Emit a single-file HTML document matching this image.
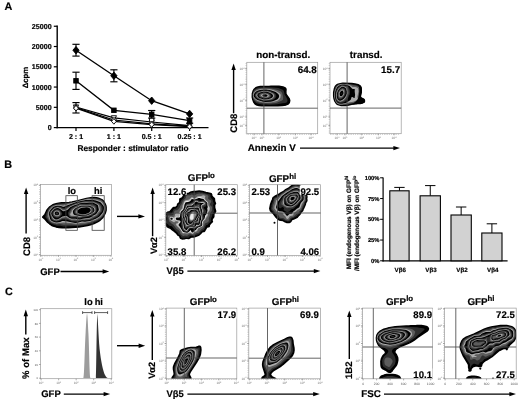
<!DOCTYPE html>
<html lang="en"><head><meta charset="utf-8"><title>Figure</title><style>html,body{margin:0;padding:0;background:#fff}body{width:520px;height:402px;overflow:hidden;font-family:"Liberation Sans",Arial,sans-serif}svg{display:block}text{stroke:#000;stroke-width:.18px}text.t{stroke:none}</style></head><body>
<svg width="520" height="402" viewBox="0 0 520 402" font-family='Liberation Sans, Arial, Helvetica, sans-serif' text-rendering="geometricPrecision"><defs><clipPath id="c1"><rect x="246.8" y="62.3" width="70.9" height="71.4"/></clipPath><clipPath id="c2"><rect x="330" y="62.3" width="71.2" height="71.4"/></clipPath><clipPath id="c3"><rect x="40.4" y="184.6" width="71.1" height="70.7"/></clipPath><clipPath id="c4"><rect x="165.8" y="184.7" width="71.5" height="70.7"/></clipPath><clipPath id="c5"><rect x="249.4" y="184.7" width="71.2" height="70.7"/></clipPath><clipPath id="c6"><rect x="166.2" y="308.1" width="70.6" height="70.7"/></clipPath><clipPath id="c7"><rect x="248.8" y="308.1" width="71.8" height="70.7"/></clipPath><clipPath id="c8"><rect x="362.6" y="308.1" width="70" height="70.7"/></clipPath><clipPath id="c9"><rect x="444.6" y="308.1" width="71.6" height="70.7"/></clipPath></defs><rect width="520" height="402" fill="#fff"/><text x="4.6" y="10.3" font-size="10.8" font-weight="bold" text-anchor="start" fill="#000">A</text>
<text x="4.3" y="168.3" font-size="10.8" font-weight="bold" text-anchor="start" fill="#000">B</text>
<text x="5" y="295.3" font-size="10.8" font-weight="bold" text-anchor="start" fill="#000">C</text>
<line x1="57.2" y1="25.6" x2="57.2" y2="128.3" stroke="#000" stroke-width="1.4"/>
<line x1="56.5" y1="127.6" x2="208.5" y2="127.6" stroke="#000" stroke-width="1.4"/>
<line x1="53.8" y1="127.6" x2="57.2" y2="127.6" stroke="#000" stroke-width="1.2"/>
<text x="51.6" y="130.1" font-size="7.1" font-weight="bold" text-anchor="end" fill="#000">0</text>
<line x1="53.8" y1="107.33" x2="57.2" y2="107.33" stroke="#000" stroke-width="1.2"/>
<text x="51.6" y="109.83" font-size="7.1" font-weight="bold" text-anchor="end" fill="#000">5000</text>
<line x1="53.8" y1="87.06" x2="57.2" y2="87.06" stroke="#000" stroke-width="1.2"/>
<text x="51.6" y="89.56" font-size="7.1" font-weight="bold" text-anchor="end" fill="#000">10000</text>
<line x1="53.8" y1="66.79" x2="57.2" y2="66.79" stroke="#000" stroke-width="1.2"/>
<text x="51.6" y="69.29" font-size="7.1" font-weight="bold" text-anchor="end" fill="#000">15000</text>
<line x1="53.8" y1="46.52" x2="57.2" y2="46.52" stroke="#000" stroke-width="1.2"/>
<text x="51.6" y="49.02" font-size="7.1" font-weight="bold" text-anchor="end" fill="#000">20000</text>
<line x1="53.8" y1="26.25" x2="57.2" y2="26.25" stroke="#000" stroke-width="1.2"/>
<text x="51.6" y="28.75" font-size="7.1" font-weight="bold" text-anchor="end" fill="#000">25000</text>
<line x1="76" y1="127.6" x2="76" y2="131" stroke="#000" stroke-width="1.2"/>
<text x="76" y="138.7" font-size="7.1" font-weight="bold" text-anchor="middle" fill="#000">2 : 1</text>
<line x1="113.9" y1="127.6" x2="113.9" y2="131" stroke="#000" stroke-width="1.2"/>
<text x="113.9" y="138.7" font-size="7.1" font-weight="bold" text-anchor="middle" fill="#000">1 : 1</text>
<line x1="151.7" y1="127.6" x2="151.7" y2="131" stroke="#000" stroke-width="1.2"/>
<text x="151.7" y="138.7" font-size="7.1" font-weight="bold" text-anchor="middle" fill="#000">0.5 : 1</text>
<line x1="189.6" y1="127.6" x2="189.6" y2="131" stroke="#000" stroke-width="1.2"/>
<text x="189.6" y="138.7" font-size="7.1" font-weight="bold" text-anchor="middle" fill="#000">0.25 : 1</text>
<text x="133" y="150.6" font-size="8.3" font-weight="bold" text-anchor="middle" fill="#000">Responder : stimulator ratio</text>
<text x="28" y="77.5" font-size="7.8" font-weight="bold" text-anchor="middle" fill="#000" transform="rotate(-90 28 77.5)">Δcpm</text>
<line x1="76" y1="102.6" x2="76" y2="113" stroke="#000" stroke-width="1.15"/>
<line x1="72.4" y1="102.6" x2="79.6" y2="102.6" stroke="#000" stroke-width="1.15"/>
<line x1="72.4" y1="113" x2="79.6" y2="113" stroke="#000" stroke-width="1.15"/>
<polyline points="76,107 113.9,117.8 151.7,122 189.6,125.6" fill="none" stroke="#000" stroke-width="1.25"/>
<polyline points="76,107.6 113.9,120 151.7,123.8 189.6,126.2" fill="none" stroke="#000" stroke-width="1.25"/>
<polyline points="76,108.2 113.9,121.4 151.7,124.6 189.6,126.6" fill="none" stroke="#000" stroke-width="1.25"/>
<path d="M73.4 104.92 L78.6 104.92 L76 109.6 Z" fill="#fff" stroke="#000" stroke-width=".9"/>
<path d="M111.3 115.72 L116.5 115.72 L113.9 120.4 Z" fill="#fff" stroke="#000" stroke-width=".9"/>
<path d="M149.1 119.92 L154.3 119.92 L151.7 124.6 Z" fill="#fff" stroke="#000" stroke-width=".9"/>
<path d="M187 123.52 L192.2 123.52 L189.6 128.2 Z" fill="#fff" stroke="#000" stroke-width=".9"/>
<rect x="149.6" y="117.9" width="4.2" height="4.2" fill="#fff" stroke="#000" stroke-width=".9"/>
<circle cx="76" cy="107.6" r="2.3" fill="#fff" stroke="#000" stroke-width=".9"/>
<circle cx="113.9" cy="120" r="2.3" fill="#fff" stroke="#000" stroke-width=".9"/>
<circle cx="151.7" cy="123.8" r="2.3" fill="#fff" stroke="#000" stroke-width=".9"/>
<circle cx="189.6" cy="126.2" r="2.3" fill="#fff" stroke="#000" stroke-width=".9"/>
<path d="M76 105.4 L78.38 108.2 L76 111 L73.62 108.2 Z" fill="#fff" stroke="#000" stroke-width=".9"/>
<path d="M113.9 118.6 L116.28 121.4 L113.9 124.2 L111.52 121.4 Z" fill="#fff" stroke="#000" stroke-width=".9"/>
<path d="M151.7 121.8 L154.08 124.6 L151.7 127.4 L149.32 124.6 Z" fill="#fff" stroke="#000" stroke-width=".9"/>
<path d="M189.6 123.8 L191.98 126.6 L189.6 129.4 L187.22 126.6 Z" fill="#fff" stroke="#000" stroke-width=".9"/>
<polyline points="76,80.8 113.9,110.3 151.7,114.3 189.6,120.6" fill="none" stroke="#000" stroke-width="1.35"/>
<line x1="76" y1="72.2" x2="76" y2="89.4" stroke="#000" stroke-width="1.15"/>
<line x1="72.4" y1="72.2" x2="79.6" y2="72.2" stroke="#000" stroke-width="1.15"/>
<line x1="72.4" y1="89.4" x2="79.6" y2="89.4" stroke="#000" stroke-width="1.15"/>
<line x1="151.7" y1="110.5" x2="151.7" y2="118.1" stroke="#000" stroke-width="1.15"/>
<line x1="148.1" y1="110.5" x2="155.3" y2="110.5" stroke="#000" stroke-width="1.15"/>
<line x1="148.1" y1="118.1" x2="155.3" y2="118.1" stroke="#000" stroke-width="1.15"/>
<line x1="189.6" y1="118" x2="189.6" y2="123.2" stroke="#000" stroke-width="1.15"/>
<line x1="186" y1="118" x2="193.2" y2="118" stroke="#000" stroke-width="1.15"/>
<line x1="186" y1="123.2" x2="193.2" y2="123.2" stroke="#000" stroke-width="1.15"/>
<rect x="73.75" y="78.55" width="4.5" height="4.5" fill="#000" stroke="#000" stroke-width=".9"/>
<rect x="111.65" y="108.05" width="4.5" height="4.5" fill="#000" stroke="#000" stroke-width=".9"/>
<rect x="149.45" y="112.05" width="4.5" height="4.5" fill="#000" stroke="#000" stroke-width=".9"/>
<rect x="187.35" y="118.35" width="4.5" height="4.5" fill="#000" stroke="#000" stroke-width=".9"/>
<polyline points="76,50.2 113.9,75.8 151.7,100.7 189.6,113.9" fill="none" stroke="#000" stroke-width="1.35"/>
<line x1="76" y1="44.3" x2="76" y2="56.1" stroke="#000" stroke-width="1.15"/>
<line x1="72.4" y1="44.3" x2="79.6" y2="44.3" stroke="#000" stroke-width="1.15"/>
<line x1="72.4" y1="56.1" x2="79.6" y2="56.1" stroke="#000" stroke-width="1.15"/>
<line x1="113.9" y1="69.8" x2="113.9" y2="81.8" stroke="#000" stroke-width="1.15"/>
<line x1="110.3" y1="69.8" x2="117.5" y2="69.8" stroke="#000" stroke-width="1.15"/>
<line x1="110.3" y1="81.8" x2="117.5" y2="81.8" stroke="#000" stroke-width="1.15"/>
<path d="M76 46.5 L79.14 50.2 L76 53.9 L72.86 50.2 Z" fill="#000" stroke="#000" stroke-width=".9"/>
<path d="M113.9 72.1 L117.05 75.8 L113.9 79.5 L110.76 75.8 Z" fill="#000" stroke="#000" stroke-width=".9"/>
<path d="M151.7 97 L154.84 100.7 L151.7 104.4 L148.55 100.7 Z" fill="#000" stroke="#000" stroke-width=".9"/>
<path d="M189.6 110.2 L192.75 113.9 L189.6 117.6 L186.45 113.9 Z" fill="#000" stroke="#000" stroke-width=".9"/>
<g fill-rule="evenodd" clip-path="url(#c1)"><path d="M277.8 105.8l-16 0-2.8-.4-2-.4-1.8-1-.7-.8-.8-1.2-.8-2.2-.6-2.6 .1-3.7 .7-2.3 1.1-2 1.6-1.4 2.2-.9 2.2-.3 3.8 0 1.5-.2 3.5 0 2-.2 8 .1 4 .6 2.2 1 .5 .6 .3 1-.2 2.3 .2 2.4 3.2 4.6 .5 1.7-.3 1.7-.5 1-.7 .7-.7 .5-1.5 .5-3.8 .6z" fill="#000" stroke="#000" stroke-width="1.5" stroke-linejoin="round"/><path d="M274.8 104.5l-5.3 .2-4.3-.1-3.2-.2-4.5-.8-1.7-.8-2.3-2.6-.8-3 0-3.4 .9-2.8 .9-1.5 2.3-1.3 1.4-.5 2-.3 5.3-.2 8 .2 5 .7 4.7 1.8 .8 1.9 .6 2.7 1.2 1.7 1.5 3.3 .2 1.3-.4 1.2-.6 .5-1.3 .4-2.7 .3-5.3 1.1z" fill="#2e2e2e"/><path d="M272.8 103.3l-2.8 .2-6.8-.2-3.2-.5-2.2-.7-1-.4-2.1-1.7-1.7-2.1-.2-3.4 .4-2.1 1.4-1.6 1.8-1.3 2.4-.8 3-.4 6 0 4.7 .5 5 1.3 3.5 1.4 1.1 1.5 .8 3 .3 2-.3 1.8-1.4 1-3.5 1.5-2 .6z" fill="#5c5c5c"/><path d="M266.5 102.5l-2.3 0-2.4-.4-4-1.2-2-1.2-2.1-2.2-.5-1.5 .1-2 1.1-1.8 2-1.7 2.6-.9 3-.5 5.8 0 3.4 .5 4.6 1.5 3.4 1.8 .9 .9 .4 .7 .2 1-.3 2-.8 1.5-1.6 1.5-1.2 .5-5 1.3z" fill="#acacac"/><path d="M270.8 101.8l-5.3 .2-1.7-.1-2.3-.6-4-1.3-1.9-1.2-1.5-1.8-.4-1.5 .3-1.5 1-1.5 1.9-1.5 2.1-.8 2.8-.5 4.2-.1 3.5 .3 2 .5 4.3 1.7 2.1 1.7 .9 1 .3 1.2-.3 1.6-1 1.3-1.2 .9-3.6 1.4z" fill="#000"/><path d="M266.2 101l-1.7 .1-1.5-.3-3.8-1.1-1.9-.9-1.4-1.3-.9-1.3-.2-1.2 .4-1 1.6-1.8 1.9-1 2.5-.5 3.8-.3 3 .1 2.3 .5 3.8 1.8 1.3 1 .7 1.2 .1 1.2-.4 1.3-1 1.3-1.6 1-2 .7z" fill="#2e2e2e"/><path d="M267.2 100.3l-2 .2-1.2-.1-3.8-1-1.6-.6-1.4-1-1.1-1.3-.4-1.3 .3-1 1.3-1.4 1.8-1 2.4-.6 3.5-.3 2.5 .1 2.3 .5 3 1.4 1.4 1.1 .5 1 .1 1-.3 1.2-.7 1.1-1.3 .9-1.5 .6z" fill="#5c5c5c"/><path d="M266.8 99.8l-2.8 0-3.5-.9-1.5-.6-1.2-.8-.9-1.3-.3-1 .3-1 1.1-1.2 1.5-.8 2.7-.6 3-.2 2 .1 2 .5 2.7 1.2 1.3 1 .5 1 0 1-.3 1-.7 .8-.9 .7-1.3 .5z" fill="#acacac"/><path d="M267.5 99.3l-3 .1-4.8-1.2-1.2-.7-.8-1-.4-1 .1-1 1.1-1.3 1.3-.7 2.1-.5 2.9-.3 2 .1 1.7 .4 2.2 1 1.6 1 .5 .8 .2 .8-.2 1-.5 .7-.8 .6-1 .5z" fill="#000"/><path d="M267.5 98.5l-2.5 .1-4.8-1-.7-.4-.7-.7-.3-1 .1-.7 .4-.8 .8-.6 2.2-.7 3.5-.3 2.7 .6 1.4 .8 1.2 1 .5 .7 0 .7-.4 .8-.7 .6-1.2 .5z" fill="#2e2e2e"/><path d="M266.8 98l-2-.1-4.2-.9-.6-.4-.4-.6-.1-.8 .1-.4 .4-.6 .8-.4 2.7-.7 2.3-.1 2.2 .7 1 .5 .7 .8 .3 .8 0 .4-.3 .6-.7 .5-1 .5z" fill="#5c5c5c"/><path d="M267 97.3l-2 0-2.4-.5-1.5-.8-.2-.8 .6-.7 1.7-.6 2-.2 1.7 .3 1.4 .8 .5 1-.1 .4-.5 .5z" fill="#acacac"/><path d="M266 96.8l-1.2 0-1.3-.4-.8-.4-.3-.8 .5-.4 1.1-.4 1.2-.1 1.3 .3 .8 .4 .3 .8-.6 .7z" fill="#000"/></g>
<rect x="246.8" y="62.3" width="70.9" height="71.4" fill="none" stroke="#9a9a9a" stroke-width=".7"/>
<line x1="246.1" y1="63.3" x2="246.1" y2="133.7" stroke="#a4a4a4" stroke-width="1.2" stroke-dasharray=".45 1.35"/>
<line x1="246.8" y1="134.4" x2="316.7" y2="134.4" stroke="#a4a4a4" stroke-width="1.2" stroke-dasharray=".45 1.35"/>
<line x1="263.9" y1="62.3" x2="263.9" y2="133.7" stroke="#4a4a4a" stroke-width="0.85"/>
<line x1="246.8" y1="108.2" x2="317.7" y2="108.2" stroke="#4a4a4a" stroke-width="0.85"/>
<line x1="245.2" y1="125.5" x2="246.8" y2="125.5" stroke="#777" stroke-width="0.6"/>
<text class="t" transform="translate(244.4 126.7) scale(.32)" font-size="10" font-weight="normal" fill="#777" text-anchor="end">10<tspan dy="-4" font-size="7">0</tspan></text>
<line x1="245.2" y1="116.8" x2="246.8" y2="116.8" stroke="#777" stroke-width="0.6"/>
<text class="t" transform="translate(244.4 118) scale(.32)" font-size="10" font-weight="normal" fill="#777" text-anchor="end">10<tspan dy="-4" font-size="7">1</tspan></text>
<line x1="245.2" y1="100.4" x2="246.8" y2="100.4" stroke="#777" stroke-width="0.6"/>
<text class="t" transform="translate(244.4 101.6) scale(.32)" font-size="10" font-weight="normal" fill="#777" text-anchor="end">10<tspan dy="-4" font-size="7">2</tspan></text>
<line x1="245.2" y1="84.6" x2="246.8" y2="84.6" stroke="#777" stroke-width="0.6"/>
<text class="t" transform="translate(244.4 85.8) scale(.32)" font-size="10" font-weight="normal" fill="#777" text-anchor="end">10<tspan dy="-4" font-size="7">3</tspan></text>
<line x1="245.2" y1="68.6" x2="246.8" y2="68.6" stroke="#777" stroke-width="0.6"/>
<text class="t" transform="translate(244.4 69.8) scale(.32)" font-size="10" font-weight="normal" fill="#777" text-anchor="end">10<tspan dy="-4" font-size="7">4</tspan></text>
<line x1="254" y1="133.7" x2="254" y2="135.3" stroke="#777" stroke-width="0.6"/>
<text class="t" transform="translate(254 138.9) scale(.32)" font-size="10" font-weight="normal" fill="#777" text-anchor="middle">10<tspan dy="-4" font-size="7">0</tspan></text>
<line x1="262" y1="133.7" x2="262" y2="135.3" stroke="#777" stroke-width="0.6"/>
<text class="t" transform="translate(262 138.9) scale(.32)" font-size="10" font-weight="normal" fill="#777" text-anchor="middle">10<tspan dy="-4" font-size="7">1</tspan></text>
<line x1="278.7" y1="133.7" x2="278.7" y2="135.3" stroke="#777" stroke-width="0.6"/>
<text class="t" transform="translate(278.7 138.9) scale(.32)" font-size="10" font-weight="normal" fill="#777" text-anchor="middle">10<tspan dy="-4" font-size="7">2</tspan></text>
<line x1="295.3" y1="133.7" x2="295.3" y2="135.3" stroke="#777" stroke-width="0.6"/>
<text class="t" transform="translate(295.3 138.9) scale(.32)" font-size="10" font-weight="normal" fill="#777" text-anchor="middle">10<tspan dy="-4" font-size="7">3</tspan></text>
<line x1="311" y1="133.7" x2="311" y2="135.3" stroke="#777" stroke-width="0.6"/>
<text class="t" transform="translate(311 138.9) scale(.32)" font-size="10" font-weight="normal" fill="#777" text-anchor="middle">10<tspan dy="-4" font-size="7">4</tspan></text>
<g fill-rule="evenodd" clip-path="url(#c2)"><path d="M343.5 105.5l-2.3-.1-3.2-.8-1-.6-.8-.8-1.3-2-.8-2.4-.4-2.6 0-3.7 .7-3.7 .7-1.8 .6-1 1.1-1.1 1.4-.7 3.3-.8 1.3-.1 9 .3 3.2 .4 3.2 .8 1.8 1 .9 1.4 .3 1.6 0 3.7-.4 1.4-.5 2.9 .9 1.2 2.3 1.1 .7 .7 .2 .4 0 1.6-.4 .3-1 .6-2.8 .7-3 .1-4.4 .6-6.3 1.3z" fill="#000" stroke="#000" stroke-width="1.5" stroke-linejoin="round"/><path d="M345.8 105l-4.3 .1-3-.6-1.6-1-1.5-2-1.1-3.5-.3-2 0-2.5 .4-3.5 .8-2.5 .5-1 1.3-1.3 1-.6 1.8-.5 2.7-.5 4.3 .1 5.4 .5 .6 .3 3.4 .5 2.8 1.1 .9 .9 .6 1.8 .1 3.2-.5 1.8-.5 2.7 0 .5 .4 .7 1 1.1 2.2 1 .4 .7 0 .7-1.1 .7-2.7 .8-3 .1-.8 .3-1.8 .1-.4 .3-1.3 0-.5 .3-2.2 .3-1.6 .6-1.2 0-.5 .3z" fill="#2e2e2e"/><path d="M342.8 104.8l-2.6 0-1.7-.5-1-.5-1.3-1.2-.5-.8-1-2.8-.5-2.5 .2-4.7 1.3-4 .5-1.2 .8-.8 1.8-1.2 2.4-.7 5.6 0 5.2 1.1 .8 .3 3 .5 2 .7 1 .6 .5 .7 .4 1.2 .1 2.5-.8 3.5-.2 2 .5 1 1.2 1.5 2.1 1.3-3.1 .8-2.7 .3-3.3 .9-2.7 .4-2.8 .8z" fill="#5c5c5c"/><path d="M342.2 104.3l-2.7-.1-1.8-.7-1.1-1-.6-.9-.9-2.1-.5-3.3 .2-4.1 1.4-4.1 1.1-1.8 1.8-1.2 2.4-.9 3.7 .1 2.3 .3 2 .6 1.3 .7 1.7 1.1 3 .2 1.3 .4 1 .6 .4 1.1 .3 2.3-1.1 5.3 .1 .7 1.1 2.5-2.4 .4-3 1.3-3.7 .6-3.5 1.3z" fill="#acacac"/><path d="M342.2 103.8l-2.4 0-1.6-.5-1.3-1.1-.9-1.2-.6-1.5-.4-1.7-.1-3.6 .2-2.2 .9-2.5 1.1-2.3 .7-.7 1.4-1.1 1-.5 1.8-.5 2.6 .1 2.6 .4 2.5 1.1 2.5 2.8 .8 .2 1.4 0 .4 .2-.1 2.3 .4 3.3-.5 3.2-.6 0-1.5-.9-.7-.1-.4 .5-.5 2-1.1 1.1-2.3 1.5-1.5 .8z" fill="#000"/><path d="M342 102.8l-2 .1-1.2-.3-1-.6-1-1.1-.6-.9-.5-1.5-.2-4.5 .2-1.8 .6-1.4 1.7-3.2 1.4-1.4 1.1-.6 1.3-.5 1 0 3.7 .6 1 .4 .9 .7 .7 1 .4 1.2 .4 1.8 .1 1.7-.3 1.7-1.7 4.1-.9 1.5-1.3 1.4-.9 .6-1.4 .6z" fill="#2e2e2e"/><path d="M341.5 102l-1.5 .1-1.2-.3-1.3-1-.7-.8-.7-1.8-.1-4.3 .2-1.4 .6-1.5 1.5-2.8 2.2-2 1.3-.4 1-.1 3.2 .7 .8 .4 .7 .7 .7 1.5 .5 4-.3 1.2-1.1 2.6-1.8 2.7-1.7 1.6z" fill="#5c5c5c"/><path d="M341.2 101.3l-1 .1-1.2-.3-1-.7-.8-.9-.5-1-.2-1.3 0-3.4 .3-1.3 .6-1.5 1.5-2.5 2.1-1.8 1-.4 1 0 2.3 .7 1.3 1 .6 1.8 .4 2.2 0 1.2-1.1 3-1.5 2.4-1.7 1.6z" fill="#acacac"/><path d="M340.5 100.8l-1-.1-.9-.5-.8-.7-.5-.7-.4-1.8 .1-3.8 .8-2.2 1.5-2.2 2.2-1.8 .7-.2 1 0 1.8 .7 1 1 .9 3 0 2-1.2 2.7-1.5 2.2-2 1.7z" fill="#000"/><path d="M340.2 99.5l-1.2-.3-.5-.4-.5-.8-.4-2.5 .2-2.5 1-2.2 1.4-1.8 1.6-1.1 .7-.2 .7 0 1.3 .7 .7 1.1 .5 2.3-.1 1.7-.9 2.3-1.2 1.7-1.7 1.4z" fill="#2e2e2e"/><path d="M340.8 98.3l-1.3-.1-.9-1-.4-2 .2-2.2 .8-1.8 1.3-1.6 1.3-.9 1.2-.1 1 .6 .6 1 .3 1.6-.2 1.4-.5 1.8-1 1.5-1.2 1.2z" fill="#5c5c5c"/><path d="M341.2 97.1l-1 0-.8-.6-.4-1.3-.1-1.7 .4-1.3 .9-1.3 1.3-1 1-.3 .7 .4 .6 .8 .3 1-.1 1.2-.4 1.5-.6 1.2-.8 .8z" fill="#acacac"/><path d="M341.2 96.3l-.7-.1-.6-.4-.3-1 0-1.3 .3-1 .7-1 .9-.8 .7-.1 .6 .2 .4 .7 .2 .7 0 1-.8 2-.6 .7z" fill="#000"/><path d="M341.5 94.3l-.3-.1-.1-.4 .2-.6 .5-.1 .1 .7z" fill="#2e2e2e"/><path d="M358.25 84.35 358.75 84.45 359.26 84.67 359.77 85.02 360.29 85.5 360.81 86.1 361.23 86.8 361.53 87.6 361.71 88.5 361.79 89.5 361.79 90.5 361.73 91.5 361.6 92.5 361.4 93.5 361.22 94.4 361.06 95.2 360.91 95.9 360.79 96.5 360.88 97.01 361.18 97.44 361.69 97.78 362.41 98.03 363.07 98.34 363.66 98.73 364.17 99.19 364.63 99.71 364.92 100.24 365.06 100.76 365.04 101.29 364.86 101.81 364.51 102.29 363.97 102.71 363.25 103.09 362.35 103.41 361.36 103.68 360.29 103.88 359.12 104.01 357.88 104.09 356.62 104.19 355.38 104.31 354.12 104.46 352.88 104.64 352.16 104.62 351.97 104.43 352.31 104.04 353.19 103.46 354.03 102.86 354.84 102.22 355.62 101.55 356.38 100.85 357.02 100.09 357.56 99.26 357.99 98.37 358.31 97.43 358.59 96.4 358.83 95.3 359.03 94.12 359.17 92.88 359.27 91.69 359.31 90.56 359.29 89.5 359.21 88.5 359.06 87.58 358.82 86.72 358.5 85.95 358.1 85.25 357.92 84.75 357.98 84.45 Z" fill="#000"/></g>
<rect x="330" y="62.3" width="71.2" height="71.4" fill="none" stroke="#9a9a9a" stroke-width=".7"/>
<line x1="329.3" y1="63.3" x2="329.3" y2="133.7" stroke="#a4a4a4" stroke-width="1.2" stroke-dasharray=".45 1.35"/>
<line x1="330" y1="134.4" x2="400.2" y2="134.4" stroke="#a4a4a4" stroke-width="1.2" stroke-dasharray=".45 1.35"/>
<line x1="347.1" y1="62.3" x2="347.1" y2="133.7" stroke="#4a4a4a" stroke-width="0.85"/>
<line x1="330" y1="108.1" x2="401.2" y2="108.1" stroke="#4a4a4a" stroke-width="0.85"/>
<line x1="328.4" y1="125.5" x2="330" y2="125.5" stroke="#777" stroke-width="0.6"/>
<text class="t" transform="translate(327.6 126.7) scale(.32)" font-size="10" font-weight="normal" fill="#777" text-anchor="end">10<tspan dy="-4" font-size="7">0</tspan></text>
<line x1="328.4" y1="116.8" x2="330" y2="116.8" stroke="#777" stroke-width="0.6"/>
<text class="t" transform="translate(327.6 118) scale(.32)" font-size="10" font-weight="normal" fill="#777" text-anchor="end">10<tspan dy="-4" font-size="7">1</tspan></text>
<line x1="328.4" y1="100.4" x2="330" y2="100.4" stroke="#777" stroke-width="0.6"/>
<text class="t" transform="translate(327.6 101.6) scale(.32)" font-size="10" font-weight="normal" fill="#777" text-anchor="end">10<tspan dy="-4" font-size="7">2</tspan></text>
<line x1="328.4" y1="84.6" x2="330" y2="84.6" stroke="#777" stroke-width="0.6"/>
<text class="t" transform="translate(327.6 85.8) scale(.32)" font-size="10" font-weight="normal" fill="#777" text-anchor="end">10<tspan dy="-4" font-size="7">3</tspan></text>
<line x1="328.4" y1="68.6" x2="330" y2="68.6" stroke="#777" stroke-width="0.6"/>
<text class="t" transform="translate(327.6 69.8) scale(.32)" font-size="10" font-weight="normal" fill="#777" text-anchor="end">10<tspan dy="-4" font-size="7">4</tspan></text>
<line x1="337" y1="133.7" x2="337" y2="135.3" stroke="#777" stroke-width="0.6"/>
<text class="t" transform="translate(337 138.9) scale(.32)" font-size="10" font-weight="normal" fill="#777" text-anchor="middle">10<tspan dy="-4" font-size="7">0</tspan></text>
<line x1="345" y1="133.7" x2="345" y2="135.3" stroke="#777" stroke-width="0.6"/>
<text class="t" transform="translate(345 138.9) scale(.32)" font-size="10" font-weight="normal" fill="#777" text-anchor="middle">10<tspan dy="-4" font-size="7">1</tspan></text>
<line x1="361.7" y1="133.7" x2="361.7" y2="135.3" stroke="#777" stroke-width="0.6"/>
<text class="t" transform="translate(361.7 138.9) scale(.32)" font-size="10" font-weight="normal" fill="#777" text-anchor="middle">10<tspan dy="-4" font-size="7">2</tspan></text>
<line x1="378.3" y1="133.7" x2="378.3" y2="135.3" stroke="#777" stroke-width="0.6"/>
<text class="t" transform="translate(378.3 138.9) scale(.32)" font-size="10" font-weight="normal" fill="#777" text-anchor="middle">10<tspan dy="-4" font-size="7">3</tspan></text>
<line x1="394" y1="133.7" x2="394" y2="135.3" stroke="#777" stroke-width="0.6"/>
<text class="t" transform="translate(394 138.9) scale(.32)" font-size="10" font-weight="normal" fill="#777" text-anchor="middle">10<tspan dy="-4" font-size="7">4</tspan></text>
<text x="283.2" y="58.4" font-size="9.8" font-weight="bold" text-anchor="middle" fill="#000">non-transd.</text>
<text x="366.2" y="58.4" font-size="9.8" font-weight="bold" text-anchor="middle" fill="#000">transd.</text>
<text x="316.8" y="72.8" font-size="9.8" font-weight="bold" text-anchor="end" fill="#000">64.8</text>
<text x="400.2" y="72.8" font-size="9.8" font-weight="bold" text-anchor="end" fill="#000">15.7</text>
<text x="236.8" y="123.2" font-size="9.5" font-weight="bold" text-anchor="middle" fill="#000" transform="rotate(-90 236.8 123.2)">CD8</text>
<line x1="233.6" y1="113.2" x2="233.6" y2="69" stroke="#000" stroke-width="1.4"/>
<path d="M233.6 63.4 L231.4 70 L235.8 70 Z" fill="#000"/>
<text x="247.8" y="150.7" font-size="9.8" font-weight="bold" text-anchor="start" fill="#000">Annexin V</text>
<line x1="300" y1="148.1" x2="394.4" y2="148.1" stroke="#000" stroke-width="1.4"/>
<path d="M400 148.1 L393.4 145.9 L393.4 150.3 Z" fill="#000"/>
<g fill-rule="evenodd" clip-path="url(#c3)"><path d="M68.5 227.8l-6.3 0-3.2-.4-3-.5-2.8-.9-1.7-.8-2-1.4-1.9-1.6-2.9-3.4-2-1.6 .2-.4 2.1-2.4 1.4-3.2 1-1.7 2.4-2.7 3-2 2.4-.9 2-.5 4.3-.6 7.5-.4 3-.4 5.8-1.2 8.7-2.4 4.3-.7 3.2-.2 2.5 .2 2 .5 3.3 1.4 1.2 1 1 1.2 1.1 2 .7 1.7 .3 1.7 0 3-.9 3-1.5 3-1.3 1.8-2.4 2.3-2.5 1.6-3.5 1.7-3.5 1.2-3 .8-8.5 1.3z" fill="#000" stroke="#000" stroke-width="1.5" stroke-linejoin="round"/><path d="M65.5 226.5l-2 .1-3-.8-3.5 0-5.2-1.9-1.6-.9-1.8-1.5-1.2-2-2-2.5 1.1-3.8 1.4-3.2 1.2-1.8 2.3-2.1 2.3-1.2 4-1.2 1.3-.2 5.4-.3 .6-.2 4.2-.2 3-.4 3-.6 11.8-3.2 3.7-.5 3.7-.2 2.6 .3 2.7 .7 2 .9 1 .8 1.7 2.2 1.1 2.2 .5 2 0 2.8-.4 1.4-.6 2-1.4 2.8-1.2 1.6-2.4 2.2-2.6 1.4-7 2.8-4.2 1-7.2 1.1-4.3-.1-3.5 .2-2 0z" fill="#2e2e2e"/><path d="M78.5 224.8l-2.5 .1-5-.5-7.2 .3-4-.6-3.3 .2-4.3-1.3-1.4-.9-1.6-1.3-2.2-3.8 .4-3.5 1-3 .8-1.4 2.1-2.3 1.5-1 2.2-.8 3-.6 5.2-.1 4.3-.7 2.7-.8 4.3-.7 12.7-3.4 1.3-.2 7.7 .3 4 1 1 .5 1.3 .9 1.3 1.6 1.5 2.7 .2 1.3 0 3.4-.5 1.8-.7 1.2-1.6 2.6-1.3 1.4-1.6 1.3-3 1.7-7 2.6-5.8 1.4z" fill="#5c5c5c"/><path d="M76.2 223.8l-5.4-.8-7.3-.6-7 .8-4.5-1.3-1.2-.9-1-1-1.3-3.2-.2-3 .2-1.6 .5-1.2 .8-1.2 2.1-2.6 1.1-.7 2.2-.9 1.8-.3 2.5-.2 3.5 .6 1-.1 1.8-.7 6.4-1.8 3-1.1 10.3-2.4 2.3-.3 5 .2 3.2 .3 4.2 1.2 1.3 .9 .9 .9 2.1 3.2 .3 1.2-.2 2.6-.9 2.7-1.9 2.7-1.7 1.8-4.1 2.5-6.2 2.2-4.6 .9-3.4 .1z" fill="#acacac"/><path d="M77.5 222.8l-2.3 .1-4-.6-4.7-1.1-3.3-.3-1 .1-2 .9-3.2 .6-1.2-.1-3-.9-1.7-1-1-1.5-1.2-4.8 0-1.2 .4-1.2 .9-1.6 2.1-2.4 1.2-1 1.5-.6 2.2-.4 2.3-.1 1.3 .2 2.2 .8 1 0 2.2-1 10.3-3.6 9.3-2 2-.2 5.2 .2 2.8 .5 2.7 .8 1.5 .6 1 .7 2.2 2.7 .6 .8 .3 1.3-.2 2-.6 2-.8 1.4-2.5 3.1-1.2 1-3 1.8-5.8 2.1-5 .8-3-.1z" fill="#000"/><path d="M77 221.8l-1.2 0-4-.4-4.6-1.7-1.4-.3-3.6 .1-2.4 1.2-3 .8-1.3-.1-2.3-.6-1.2-.7-.8-1.1-.4-2-1-2.8-.1-1 .1-1 .7-1.1 2.5-2.9 1-.7 1.2-.6 2.3-.4 2 0 1 .3 2.5 1.3 1.2 .1 5.4-2.7 5.1-2 4.1-1.3 6.2-1.2 3-.2 4.8 .2 1.2 .2 5.2 1.9 1.8 1.3 1.1 1.4 .3 .7 .3 1.3-.1 1.7-.4 1.7-.4 .9-1.6 1.5-1.4 1.9-1.8 1.4-2.1 1.1-4.9 2-5 .7-3-.1-3 .9z" fill="#2e2e2e"/><path d="M78 220.8l-6.2-.3-1.6-.5-3-1.4-1.7-.3-3.3 .2-2.7 1.4-2.5 .9-1 0-1.4-.3-1.7-.7-.9-1-1.7-4.6-.1-1 .2-.7 .5-1 2.8-3 .8-.6 1.3-.5 1.7-.3 1.7 .1 1 .4 2.8 1.6 1.5 .1 1-.5 4.3-2.6 5-2.1 4.7-1.6 5.5-.9 4.5-.1 4.3 .2 4.4 1.9 1 .6 1.2 1.3 .5 1 .5 2.5-.2 1.8-.4 .7-1.6 1.5-1.7 2.2-1 .9-4.1 2.1-2.6 1.2-5 .6-2.8 0z" fill="#5c5c5c"/><path d="M57.2 220l-1 .2-.9-.2-1.2-.5-.9-.6-.5-.7-1.4-3-.5-1.4 .1-1.3 .6-.9 2.7-2.8 1.6-.8 1.7-.4 1.5 .2 1 .4 3 2 1.5 .2 1.7-.8 4-3 4.3-1.9 5.3-1.8 5.2-.7 4.5-.2 4.3 .4 4 1.8 .7 .7 .5 .9 .9 3.7 0 .7-.4 .8-1.5 1.6-1.8 2.4-2.2 1-2 1.4-2.2 1.1-2.8 .3-2.2 .4-2.3 .1-2.7 .5-1.6 .1-3.4-.6-3.6 .1-1.4-.6-3-1.6-1.6-.1-3 .4-3 1.7z" fill="#acacac"/><path d="M57 219.5l-1.5 0-1.9-1.3-1.8-2.7-.6-1.7 .1-1 .6-1 2.6-2.7 1.5-.8 1.5-.2 1.3 .2 1.4 .7 2.6 1.9 1 .3 1-.1 1.2-.5 1.6-.8 2-2 .9-.8 3.9-1.8 2.6-.8 2.8-1.2 4.7-.5 2.5 .1 2.5-.3 4 .3 3.5 1.6 .7 .6 .4 .8 .7 3.4 0 .8-.5 1-1.7 2.5-1.1 1.1-1.7 .7-2 1.4-2 1-7 1.1-2.8 .6-1.2 0-3.3-.7-3.5 0-1.2-.1-1.8-.8-2.2-1.7-1-.1-3.3 .6-3.5 2.1z" fill="#000"/><path d="M80.5 218.3l-1.5 .1-2.8-.8-5-.1-1.2-.4-.8-.6-.8-1.3-.6-2.2 .3-.8 1.1-1.4 1.4-2.3 .9-.7 3.5-1.8 2.5-.9 2-1 1-.2 3.7-.2 2.8 .2 3-.4 3.8 .7 1.2 .6 1 .7 .4 .7 .3 1.3 .2 2.5-.5 1.8-1.2 1.5-4 2.3-2 .8-1.4 .4-4.8 .6zM58 217.8l-1 .1-.8-.1-2-.9-1.2-1.2-.8-1.7 .1-1.2 1.1-1.6 1.8-1.5 1.6-.5 1.4 .1 1.8 .9 1.1 1.3 1.2 2.3-.4 1-1.4 1.4-1.3 1.1z" fill="#2e2e2e"/><path d="M80 217.5l-1 .1-2.5-.8-5-.1-1-.2-.7-.5-.5-1-.1-1.5 2.2-4.3 4.1-2.6 2.5-1 1.6-.8 .9-.3 6.5 .2 3-.2 3.5 1 1 .6 .6 .7 .7 1.4 .3 1.8-.4 1.5-.9 1.3-3.6 2-2.7 1.1-2 .4-4 .4zM58.2 216.8l-1.4 .1-1.8-.6-1.1-.8-.7-1-.2-1 .4-1.3 1.1-1.2 1.3-.8 1.2-.2 1.5 .3 1.3 .9 .7 1.3 .3 1.3-.4 1.2-.9 1.1z" fill="#5c5c5c"/><path d="M80.5 216.5l-1.3 .2-2.4-.7-5.6-.2-.8-.6-.2-.4 0-.7 1.2-1.9 .6-1.7 .8-1 3-2.3 4.4-2 9.8 .2 3 1.1 1 .8 .7 .9 .5 1.8-.3 1.5-.7 .8-2.4 1.6-1.8 .9-2.8 .9-5 .4zM57.8 216l-1 0-1.3-.4-1-.6-.5-.8-.1-.7 .2-1 .7-.9 1-.6 1-.2 1.2 .2 1.1 .8 .6 1 .1 1-.3 1.1-.7 .8z" fill="#acacac"/><path d="M79.8 216l-5.2-1-.8-.5-.6-1-.3-1.7 .3-1.3 1.9-2 1.7-1.1 4-1.7 8.2 .1 1.8 .4 1.4 .7 1.3 .9 .7 1.1 .3 1.3-.3 1.1-.9 .9-2.3 1.6-4.2 1.6-4.8 .3zM58 215.3l-1.5 0-.8-.3-.7-.6-.3-.6 0-.8 .3-.7 .5-.5 .7-.3 1 0 .8 .3 .8 .6 .3 .8 0 .8-.4 .8z" fill="#000"/><path d="M80.5 215.3l-1.5-.1-3-.7-.9-.5-.7-1-.3-1.2 .3-1.3 1.5-1.7 1.3-1 3.8-1.5 6.2-.1 2.2 .3 1.5 .5 1.3 .8 1 1.2 .3 1.2-.4 1-1.2 1.3-1.5 1-2.6 1.1-1.6 .5zM57.5 214.4l-.7 0-.8-.4-.2-.8 .2-.5 .8-.3 1 .4 .3 .4 0 .6z" fill="#2e2e2e"/><path d="M85.8 214.8l-6 0-2.6-.6-1-.4-.8-.8-.3-1 .2-1 .9-1.5 1.1-1 3.9-1.7 4.3-.2 2 0 2.3 .5 1.6 .9 .7 .8 .4 1-.2 1-.6 1-.9 .9-1.5 .8-2.1 .9z" fill="#5c5c5c"/><path d="M86.2 214.3l-1.4 .2-2-.1-2.8-.1-1.5-.3-1.1-.5-.7-.5-.4-.8 .1-1 .6-1.2 .9-1 1.3-.8 2.3-.9 3.3-.3 2 0 2 .3 1.5 .7 .8 .8 .3 .7 0 .7-.3 1-.6 .8-1 .8-1.8 1z" fill="#acacac"/><path d="M85.8 214l-3.3 .2-3.3-.5-1-.5-.6-.4-.3-.8 0-.8 .5-1 1-1 1.7-1 1.5-.5 2.5-.3 2-.1 1.7 .3 1.5 .6 .5 .6 .4 .7 0 .7-.3 1-.7 .8-1.1 .9-1.5 .7z" fill="#000"/></g>
<rect x="40.4" y="184.6" width="71.1" height="70.7" fill="none" stroke="#9a9a9a" stroke-width=".7"/>
<line x1="39.7" y1="185.6" x2="39.7" y2="255.3" stroke="#a4a4a4" stroke-width="1.2" stroke-dasharray=".45 1.35"/>
<line x1="40.4" y1="256" x2="110.5" y2="256" stroke="#a4a4a4" stroke-width="1.2" stroke-dasharray=".45 1.35"/>
<line x1="38.8" y1="254.8" x2="40.4" y2="254.8" stroke="#777" stroke-width="0.6"/>
<text class="t" transform="translate(38 256) scale(.32)" font-size="10" font-weight="normal" fill="#777" text-anchor="end">10<tspan dy="-4" font-size="7">0</tspan></text>
<line x1="38.8" y1="237.39" x2="40.4" y2="237.39" stroke="#777" stroke-width="0.6"/>
<text class="t" transform="translate(38 238.59) scale(.32)" font-size="10" font-weight="normal" fill="#777" text-anchor="end">10<tspan dy="-4" font-size="7">1</tspan></text>
<line x1="38.8" y1="219.98" x2="40.4" y2="219.98" stroke="#777" stroke-width="0.6"/>
<text class="t" transform="translate(38 221.18) scale(.32)" font-size="10" font-weight="normal" fill="#777" text-anchor="end">10<tspan dy="-4" font-size="7">2</tspan></text>
<line x1="38.8" y1="202.57" x2="40.4" y2="202.57" stroke="#777" stroke-width="0.6"/>
<text class="t" transform="translate(38 203.77) scale(.32)" font-size="10" font-weight="normal" fill="#777" text-anchor="end">10<tspan dy="-4" font-size="7">3</tspan></text>
<line x1="38.8" y1="185.16" x2="40.4" y2="185.16" stroke="#777" stroke-width="0.6"/>
<text class="t" transform="translate(38 186.36) scale(.32)" font-size="10" font-weight="normal" fill="#777" text-anchor="end">10<tspan dy="-4" font-size="7">4</tspan></text>
<line x1="40.9" y1="255.3" x2="40.9" y2="256.9" stroke="#777" stroke-width="0.6"/>
<text class="t" transform="translate(40.9 260.5) scale(.32)" font-size="10" font-weight="normal" fill="#777" text-anchor="middle">10<tspan dy="-4" font-size="7">0</tspan></text>
<line x1="58.41" y1="255.3" x2="58.41" y2="256.9" stroke="#777" stroke-width="0.6"/>
<text class="t" transform="translate(58.41 260.5) scale(.32)" font-size="10" font-weight="normal" fill="#777" text-anchor="middle">10<tspan dy="-4" font-size="7">1</tspan></text>
<line x1="75.92" y1="255.3" x2="75.92" y2="256.9" stroke="#777" stroke-width="0.6"/>
<text class="t" transform="translate(75.92 260.5) scale(.32)" font-size="10" font-weight="normal" fill="#777" text-anchor="middle">10<tspan dy="-4" font-size="7">2</tspan></text>
<line x1="93.43" y1="255.3" x2="93.43" y2="256.9" stroke="#777" stroke-width="0.6"/>
<text class="t" transform="translate(93.43 260.5) scale(.32)" font-size="10" font-weight="normal" fill="#777" text-anchor="middle">10<tspan dy="-4" font-size="7">3</tspan></text>
<line x1="110.93" y1="255.3" x2="110.93" y2="256.9" stroke="#777" stroke-width="0.6"/>
<text class="t" transform="translate(110.93 260.5) scale(.32)" font-size="10" font-weight="normal" fill="#777" text-anchor="middle">10<tspan dy="-4" font-size="7">4</tspan></text>
<rect x="65.9" y="195.7" width="11.4" height="34.6" fill="none" stroke="#444" stroke-width=".8"/>
<rect x="92.1" y="195.7" width="12.1" height="34.6" fill="none" stroke="#444" stroke-width=".8"/>
<text x="71.8" y="194.2" font-size="9.4" font-weight="bold" text-anchor="middle" fill="#000">lo</text>
<text x="98.1" y="194.2" font-size="9.4" font-weight="bold" text-anchor="middle" fill="#000">hi</text>
<text x="29.8" y="246.4" font-size="9.5" font-weight="bold" text-anchor="middle" fill="#000" transform="rotate(-90 29.8 246.4)">CD8</text>
<line x1="26.1" y1="233.6" x2="26.1" y2="193" stroke="#000" stroke-width="1.4"/>
<path d="M26.1 187.4 L23.9 194 L28.3 194 Z" fill="#000"/>
<text x="40.2" y="274.6" font-size="9.5" font-weight="bold" text-anchor="start" fill="#000">GFP</text>
<line x1="60.5" y1="271.5" x2="103.6" y2="271.5" stroke="#000" stroke-width="1.4"/>
<path d="M109.2 271.5 L102.6 269.3 L102.6 273.7 Z" fill="#000"/>
<line x1="117" y1="216.4" x2="139.4" y2="216.4" stroke="#000" stroke-width="1.4"/>
<path d="M145 216.4 L138.4 214.2 L138.4 218.6 Z" fill="#000"/>
<g fill-rule="evenodd" clip-path="url(#c4)"><path d="M184.5 238.8l-2.5 .1-1.2-.5-.6-.6-.4-1.6-1.8-1-1.2-1.7-1.8-1.5-1.3-1.2-1.7-1.2-1.5-1.3-1.7-.7-1.8-1.1-.5-1-2.2-3-.1-1.7-.4-1.6 .4-.6 .8-.2 .3-.4-.7-2.8 2.2-2.4 1.4-.8 .8 0 .8-.3 3.4-4 .8-.3 1.8-.2 1.2-.7 .3-.5 .3-1.5 .3-.7 1.4-1 .3-.6 .3-1.4-.1-1.3 .1-.5 2.2-1.2 .9-1 .8-1.8 2-1.4 3-.4 2.4-1.3 2.3-.5 2 .1 3.7-.5 3.3 .4 3.4 1.1 4.6 .9 .5 .2 .5 .6 .4 1.6 .8 1.2 1.7 1.5 .2 2.7 .9 2.3-.8 1.5-.1 .8 .1 2.2 .8 2.5 .1 1-.4 .7-1.3 1.6-.1 3-1.3 1.8-.5 1.1 0 .8 .4 1.3-1.6 1.5-1.3 1.5-.3 1.6-2 .5-.4 .3-2.3 4-.3 .2-1.2 .1-1.3 .7-1.2 1.5-1.5 1.3-3.8 1.6-1.7 .4-1.5-.2-.8 .2-2.2 1.4-.8 .1-2-.4z" fill="#000" stroke="#000" stroke-width="1.5" stroke-linejoin="round"/><path d="M188.2 237.8l-2.4-.4-.8 .3-1.2 .1-1.6-.1-1-.3-.4-1.5-1-1-1.3-.4-.5-1.2-1-1.3-1.2-1-3.8-4.4-.8-.5-1.2-.1-1.4-.8-.4-.7-1.4-1.1-.9-1.2 .3-.7 .2-1 .7-1 .1-1-.3-1-.7-.7-.4-1 1.7-2 1-.1 1 .3 1.3 0 1.1-.5 .3-.5 .4-1.8 .5-1.2 .9-1.1 2-.5 1.2-1.1 .8-1.1 .4-1.4 .6-.7 .8-.3 .6-1 .1-1 1-1.9 1.3-.9 1.2-1.5 .6-1.7 1.4-1.4 3.2-.5 1-.6 1.6-.7 1.2 .1 .8-.3 .4 .2 1.8 0 3.2-.8 1.8 .6 1-.1 3.2 1 5 1.1 .3 .6-.1 1 .1 1 .7 1.2 1.3 1.4 .6 2.2 .7 1.4-.7 2 .4 1.3 0 2.7 .8 2-1.7 2.3-.4 2.5-.9 1.8-.4 1.4 0 1.8 .1 .5-2.9 2.5-.6 .9-.7 .1-.6 .3-.7 1.2-.7 2-.4 .5-.6 1.2-.8 .1-1.8 1.2-.9 1-.1 .5-1.4 1.3-2 .4-1.8 .9-1.2 .5-.8 0-1.8-.4-.7 .1-1 .7-.7 1.1z" fill="#2e2e2e"/><path d="M183.8 236l-.9 0-1.7-1.4-1.3-1.6-.1-1.4-.8-1.1-2.8-2-2.7-3.7-2.4-1.6-.6-.8-1.5-1.1-.7-4.1-.6-1.2 1.1-.7 1 .2 2.2 0 .8-.2 .4-.3 .5-1 .7-3 .6-.6 2-.2 1.5-1.2 1.3-1.7 .5-1.5 1.3-1.8 .6-1.8 .8-1.4 2.6-2.6 .3-.7 .1-1 .8-1 2-.2 .7 .1 2-.9 .7 .1 1.3 .8 .7 0 2.8-1.5 2.2-.3 1.6 .2 1.2-.2 1.8 .3 2.7 .8 1.5 .8 .5 1-.4 1.5 .2 .8 .7 .6 1.8 .8 .3 .6 .1 1.2-1.2 1.7-.1 .8 .5 1 1.5 1.3 .2 .7-.2 1.7 .1 1.6-1.9 2.4-.2 1 0 1.3-1.2 3.3 .3 2.2-1.2 1.3-2.3 .9-.5 .4-1 3.2-.5 .9-.7 .8-1 .6-1.6 1.4-1 1.7-.7 .6-.5 .2-.8 0-1.2 .3-1.5 1.1-1.3 .6-2.4-.7-1 0-1 .3-1 .9-1.3 .3-1.5-.2z" fill="#5c5c5c"/><path d="M193.2 233.8l-1.2-.1-2-.9-.8 .1-1.4 .7-.8 0-2.2-.3-1.6 .1-.7-.2-.5-.5-.8-1.9-1-1.4-1.2-1.5-2.4-2.1-.6-1-.2-.6 .2-.4 1.9-1 .3-.6-.1-.4-1.1-.5-1.2-.1-.7 .3-.6 .8-.7 0-3.8-2.2-.5-1.1 .1-1.2 .4-.7 .5-.3 1 0 1.7 .5 .8-.1 .6-.7 .5-2.3 .7-1 .4-.3 2 .2 .8-.4 1.4-2.5 1.8-2 .4-3 1.5-3.7 1-1 .7-.3 3.4-.8 2.3-2.1 .7-.1 1.8 .9 1 .1 .9-.4 1.1-1.1 .8-.5 1.4-.2 2 0 2-.7 1 .1 1 .5 .2 .3-.4 1.8 .5 1.8 .7 .8 1.6 1.1 .3 .5 .4 3 1.5 2.8-.2 2-1.6 2.5-.2 1 0 1.5-.5 1.2-1 1.4-1 1.9-1.7 1.5-.4 .5-.2 .7 0 2.6-.3 1.2-.9 .8-3.4 1.4-.6 .8-.6 1.8-.4 .4-1.8 .9z" fill="#acacac"/><path d="M193.2 233.1l-.4 .1-.8-.1-1.8-1.2-.4 0-1.8 1-.8 .2-4.2-.7-.5-.5-2.7-4.3-1.9-1.8-.5-.8 .3-.8 2-2 .1-.4-.2-.6-.8-.4-2.6-.6-1.7-.9-.3 0-1.2 .9-1 .1-1-.2-.8-.6-.2-.5 0-.8 .5-.7 .7-.2 1.4 .5 1.6 1.1 .3-.1 1.3-1.9 .4-.4 2.3 .4 .7-.2 .3-.6 .2-1.9 .8-2.4 .5-1 1.5-1.3 .4-.7 .5-1.3 .3-2.5 1.1-3 .4-.6 .8-.3 2 0 1.2-.3 .8-.5 1.2-1.6 .6-.5 .7 0 1.5 .7 1 0 1.3-.4 1.9-1.2 1-.2 1 0 3.6 1.4 1.4 2 2.2 1.7 .3 .8 .2 2.2 .7 2.3-.2 1.3 .1 1.2-.9 2.2-.6 2.8-1.2 1.8-.9 2.2-1.9 1.8-.4 .7-.1 .7 .2 2.3-.3 1.3-.9 .7-2.7 1-.8 .5-.7 .8-.8 1.8-1.7 .9z" fill="#ececec"/><path d="M193 232.6l-.8 0-.5-.4-.6-1-.3-1.2-2.1 2-1.2 .7-1 0-2.3-.5-1.2-.5-.9-1.2-2.1-3.5-1.4-1.5-.2-.5 .3-.8 1.7-2 .1-.7-.1-.5-.9-.6-2-.2-1.2-.4-.5-.6-.1-.7 .3-.6 .5-.4 2.7 .1 .8-.5 .2-2.6 .6-2.3 .5-1 1.5-1.1 .4-.7 .9-2.4 .3-2.2 1.2-2.6 2.4-.1 1.5-.6 1-.7 1-1.6 .5-.3 2.5 .5 1.7-.4 2.3-1 1.3-.1 1.2 .6 1.8 .3 .7 .3 1.4 1.7 2.2 1.7 .3 .7 0 1.8 .4 2-.5 1.8 .3 1.2-.1 1-1 3.2-1.3 1.3-.6 3-1.8 2.1-.6 .9-.2 1 .3 2-.2 1-1.1 .9-2.4 .8-.9 .6-.8 .7-.9 1.5-1.5 .7zM172 219.8l-1-.1-.6-.5-.1-.7 .5-.7 1 0 1 .7 0 .7z" fill="#000"/><path d="M187 232l-.8 0-1.7-.6-1-.6-.7-.7-1-1.9-.3-2.2-.5-1.5 .6-2.7-.4-2.6-.2-3.7 .2-1.7 .7-1.8 1.6-1.4 .5-.7 1.1-2.9 .5-2.2 1.1-1 2.5-.6 2.6-1 .7-.4 1.4-1.3 1.9-.7 1.8 0 1.4 1 .8 .3 1-.2 1.7-.6 1 .2 2.6 2 .4 .7 0 1-.5 1.8-.5 .4-1.5 .5-.3 .3 .6 1.6 1.7 1.7 .2 1-.4 1.1-1.8 .5-.7 .9-.1 1 .6 2.2 0 .8-.3 .8-1.5 1.7-.6 1-.1 1 .2 2-.2 .7-1 .8-2.8 1.1-2.5 1.6-1.5 .1-2-.6-1.4 .3-.8 .7-1.1 2.1-.4 .5z" fill="#2e2e2e"/><path d="M187.2 231.3l-1 .1-1.5-.6-1.2-1-.6-1-.3-2.8-.5-2.2 .2-5-.7-3.6 .1-1.2 .3-1.1 .5-.8 1.9-1.9 1.8-5 .4-.4 .6-.5 2.6-.2 2.7-1 .8-.6 1.2-1.5 1.3-.7 1.2 .1 1.5 1 1 .3 1.3 0 2-.5 1.2 .3 1.5 1.3 .1 1-.3 .7-.5 .5-2 .8-.7 .7 .1 1 1.7 2.7 .3 1-1.2 1.5-.3 .8-.2 2.7 .3 2-.2 .8-1.7 2.5-.2 3.5-.7 .6-2.8 .9-2.4 1.6-1 .1-2.3-.5-1.7 .3-.9 .8-.9 1.8z" fill="#5c5c5c"/><path d="M187.2 230.5l-.7 .2-.8-.2-1.4-1-.7-1-.9-5.5 .4-4-.9-2.5-.2-1.3 .1-1.2 .3-1 2.3-2.5 2.1-4.9 1-.7 2.4 0 1.8-.6 1.9-1.3 1.2-1.8 .9-.3 .8 .1 1.2 .8 1 .4 2 .1 2-.4 1 .3 .7 .8 0 .8-.7 .6-2 .8-.6 1.3 0 1 1.2 2.3 .2 1.2-.6 2-.7 3.8 .4 2-1.4 2.7-.5 3.3-1 .6-2 .4-1.6 1.4-.9 .5-3.3-.3-2 .4-.9 .7z" fill="#acacac"/><path d="M186.8 230.3l-.8-.1-.9-.4-.8-.8-.4-.8-1-5.4 .5-3.8-.9-2.5-.2-1.5 0-1 .4-1 2.2-2.5 1.9-4.5 .4-.5 .8-.4 2.5 .2 1.5-.4 2.2-1.7 1-1.6 .8-.4 .5 .1 1.3 .7 1 .4 2.4 .2 1.8-.2 .8 .1 .5 .5-.1 .5-.4 .5-1.8 .8-.6 .7-.3 1 .1 1.3 1 2 .2 1.2-.7 4.2-.6 1.8 .4 2-1.1 2.2-.6 3.3-.5 .5-.5 .2-2 .1-1.2 1.5-1.1 .6-.7 .1-2.6-.3-2.2 .4-.8 .6-1 1.8z" fill="#ececec"/><path d="M186.8 230l-.8 0-.8-.5-.8-.7-.3-.8-1.1-5.2 .5-3.8-.9-2.8-.2-1.4 .4-1.8 2.2-2.5 2-4.4 .5-.6 .5-.1 2.5 .2 1.5-.2 2.5-2.1 1-1.5 .5-.3 .5 .1 1.2 .6 .8 .3 3.3 .4 1.7-.1 .3 .2 0 .5-1.8 .9-.7 .8-.4 1 .1 1.5 1 2.1 .2 1.2-.6 4-.7 2.2 .3 1.6 0 .4-1 2-.4 2.6-.3 .7-1 .5-1.5-.3-.5 .1-.9 1.7-1.1 .8-.7 .1-2.6-.3-2.4 .4-.6 .5-1 1.6z" fill="#000"/><path d="M186.5 228.5l-.8 0-.8-.7-.5-2.8-.7-2 0-1.2 .6-2.8-1.1-3.2-.1-1.6 .3-1 1.8-2.2 1.3-2.7 1-1.5 .5-.4 .5-.1 2.3 .3 1.7 0 .6-.4 1.3-1.2 1.7-.5 1.4-1 1.3-.1 1 .2 .5 .6-.1 3 1.1 3.3 .1 1.3-.3 3-1.2 3 0 2-.8 3.4-.6 .5-2.3-.5-.7 .2-.3 .6-.2 2-.8 .8-5.7 0-.7 .4z" fill="#2e2e2e"/><path d="M186.5 227.3l-.5 .2-.6-.5-.5-2.5-.8-2 .1-1 .7-2.5-1.2-3.2-.1-1.6 .3-1 1.7-2.2 1.3-2.5 1.1-1.2 .8-.3 4.2 .2 1.8-1.2 2.2-.3 1.2-.8 .6-.1 .4 .7 .4 2 1.1 3.3 .2 2.2-.2 2-1.7 3.8 0 2.4-.2 1.3-.3 .3-.5 .1-2-.3-1 .2-.3 .7-.1 2-.2 .5-.4 .3-.8 .2-5-.2-.7 .3z" fill="#5c5c5c"/><path d="M193.5 226.1l-2.7 0-4.6-.3-.6-1.8-.9-1.8 0-.7 .7-2.7-.2-.8-.9-2-.2-1.2 .1-1 .3-.8 1.5-2 1-2 1.2-1.2 1.3-.2 3.7 .1 2.6-1 2.2 .2 .9 .6 .7 1.5 .9 3.2 .1 1.6-.1 1-2.2 4.2 .1 2.2-.2 .7-.7 .4-2-.2-.9 .4-.4 .7-.1 2.3z" fill="#acacac"/><path d="M193.5 225.8l-.7 .2-2.6-.1-3-.4-.7-.4-1.6-3.1 .7-3.5-1.1-2.7-.1-2 .5-1 1.3-1.8 1-2 1-1 1.6-.2 3.7 .1 2.5-.7 2 .2 .8 .5 .5 1.1 1 3.5 0 2.3-2.2 4.2 0 2-.1 .6-.5 .4-2-.1-1 .5-.5 .8-.1 2z" fill="#ececec"/><path d="M193.2 225.8l-3 0-2.7-.5-.7-.4-1.7-2.9 0-.8 .6-1.7 .1-1-1.2-2.7 0-2 .4-1 1.3-1.8 .9-1.8 1-1 1.8-.3 3.8 .2 2.2-.6 1.8 .1 .8 .4 .5 1 1.1 3.8 0 2-.5 1.2-1.8 3 0 2-.1 .5-.6 .3-2 0-.8 .4-.5 1-.1 2z" fill="#000"/><path d="M192.5 225.3l-1.7 .1-1.6-.3-1.2-.4-.8-.7-1.2-2.5 .5-3.3-.2-1-1.1-1.7-.1-1 .2-1 2.6-4 1-.7 2.1-.4 3 .4 2.5-.2 1 .1 .7 .6 1.4 3.2 .3 1.3-.1 1-.8 1.6-1.5 2.1-.6 2.3-2.1 .7-.8 .5-.6 1-.3 1.8z" fill="#2e2e2e"/><path d="M192 224.8l-1.2 .2-1.6-.3-1-.5-.7-.7-.9-2 .4-3.6-.3-.9-1.1-1.8-.1-1 .2-.7 .5-1 2.5-2.7 1.3-.7 1.5-.2 5.5 .5 .8 .6 1.4 2.8 .3 1.2-.2 1-.7 1.5-1.4 1.7-.7 2-2.9 1.8-.7 1-.4 1.3z" fill="#5c5c5c"/><path d="M191.5 224.3l-1 .2-1.3-.3-.9-.4-.5-.8-.5-1.8 .1-3.7-.3-.7-1.1-1.7 0-1.4 .3-.7 .7-.7 2-1.2 1.2-1.3 .6-.3 1.2-.2 4.5 .6 1 .7 1.2 2.2 .4 1.2-.1 1-.7 1.2-1.3 1.8-.9 2-2.6 1.8-1.5 2z" fill="#acacac"/><path d="M191.2 224l-1 .2-1-.2-.7-.4-.5-.7-.5-1.7 0-4-.3-.7-1-1.5-.1-.8 .1-.7 .8-1 2.2-1.1 1.3-1.4 .7-.4 1.3-.1 4 .7 1 .8 1.1 2 .3 1-.1 1.1-.6 1-1.3 1.7-1 2.2-2.6 1.8-1.5 1.9z" fill="#ececec"/><path d="M190.5 224l-1.5-.2-.6-.6-.4-.7-.3-1.3-.1-4-.2-.7-1.1-1.5-.1-.8 .2-.7 .8-1 2.3-1 1.3-1.4 .5-.3 1.5-.1 3.7 .6 1 .9 1.1 2 .2 1-.2 1-1.8 2.6-1 2.2-2.3 1.5-2 2.2z" fill="#000"/><path d="M191 222.5l-.8 .1-.4-.1-.7-.7-.6-2.3-.2-3.3-1-1.4 0-.8 .5-.4 1.4-.4 2.3-2.1 .7-.4 1.6-.1 1.9 .4 .8 .5 .8 1.3 .4 1.2-.2 1-1.2 2-1.1 2.5z" fill="#2e2e2e"/><path d="M191 221.5l-.5 0-.5-.3-.8-1.7-.2-2 .3-2.5 1.3-2 1.4-1.3 1.2-.4 1.8 .2 .9 .5 .7 1 .2 1-.2 1-1.9 4.2-2.2 1.7z" fill="#5c5c5c"/><path d="M192 220.3l-.8 .2-.4-.1-.8-.9-.4-1.5 .3-2 .8-1.8 1.1-1.3 1.2-.7 1.2 0 .8 .4 .5 .6 .2 .8-.1 1-1.4 3.6-.8 .9z" fill="#acacac"/><path d="M191.8 219.8l-1-.3-.6-.7-.2-1.3 .3-1.5 .7-1.5 1-1.2 1-.5 1 0 .6 .4 .4 .8 0 1-.3 1.2-.5 1.3-.7 1.2-1 .8z" fill="#ececec"/></g>
<rect x="165.8" y="184.7" width="71.5" height="70.7" fill="none" stroke="#9a9a9a" stroke-width=".7"/>
<line x1="165.1" y1="185.7" x2="165.1" y2="255.4" stroke="#a4a4a4" stroke-width="1.2" stroke-dasharray=".45 1.35"/>
<line x1="165.8" y1="256.1" x2="236.3" y2="256.1" stroke="#a4a4a4" stroke-width="1.2" stroke-dasharray=".45 1.35"/>
<line x1="194.2" y1="184.7" x2="194.2" y2="255.4" stroke="#4a4a4a" stroke-width="0.85"/>
<line x1="165.8" y1="213.2" x2="237.3" y2="213.2" stroke="#4a4a4a" stroke-width="0.85"/>
<line x1="164.2" y1="254.9" x2="165.8" y2="254.9" stroke="#777" stroke-width="0.6"/>
<text class="t" transform="translate(163.4 256.1) scale(.32)" font-size="10" font-weight="normal" fill="#777" text-anchor="end">10<tspan dy="-4" font-size="7">0</tspan></text>
<line x1="164.2" y1="237.49" x2="165.8" y2="237.49" stroke="#777" stroke-width="0.6"/>
<text class="t" transform="translate(163.4 238.69) scale(.32)" font-size="10" font-weight="normal" fill="#777" text-anchor="end">10<tspan dy="-4" font-size="7">1</tspan></text>
<line x1="164.2" y1="220.08" x2="165.8" y2="220.08" stroke="#777" stroke-width="0.6"/>
<text class="t" transform="translate(163.4 221.28) scale(.32)" font-size="10" font-weight="normal" fill="#777" text-anchor="end">10<tspan dy="-4" font-size="7">2</tspan></text>
<line x1="164.2" y1="202.67" x2="165.8" y2="202.67" stroke="#777" stroke-width="0.6"/>
<text class="t" transform="translate(163.4 203.87) scale(.32)" font-size="10" font-weight="normal" fill="#777" text-anchor="end">10<tspan dy="-4" font-size="7">3</tspan></text>
<line x1="164.2" y1="185.26" x2="165.8" y2="185.26" stroke="#777" stroke-width="0.6"/>
<text class="t" transform="translate(163.4 186.46) scale(.32)" font-size="10" font-weight="normal" fill="#777" text-anchor="end">10<tspan dy="-4" font-size="7">4</tspan></text>
<line x1="166.3" y1="255.4" x2="166.3" y2="257" stroke="#777" stroke-width="0.6"/>
<text class="t" transform="translate(166.3 260.6) scale(.32)" font-size="10" font-weight="normal" fill="#777" text-anchor="middle">10<tspan dy="-4" font-size="7">0</tspan></text>
<line x1="183.91" y1="255.4" x2="183.91" y2="257" stroke="#777" stroke-width="0.6"/>
<text class="t" transform="translate(183.91 260.6) scale(.32)" font-size="10" font-weight="normal" fill="#777" text-anchor="middle">10<tspan dy="-4" font-size="7">1</tspan></text>
<line x1="201.51" y1="255.4" x2="201.51" y2="257" stroke="#777" stroke-width="0.6"/>
<text class="t" transform="translate(201.51 260.6) scale(.32)" font-size="10" font-weight="normal" fill="#777" text-anchor="middle">10<tspan dy="-4" font-size="7">2</tspan></text>
<line x1="219.12" y1="255.4" x2="219.12" y2="257" stroke="#777" stroke-width="0.6"/>
<text class="t" transform="translate(219.12 260.6) scale(.32)" font-size="10" font-weight="normal" fill="#777" text-anchor="middle">10<tspan dy="-4" font-size="7">3</tspan></text>
<line x1="236.73" y1="255.4" x2="236.73" y2="257" stroke="#777" stroke-width="0.6"/>
<text class="t" transform="translate(236.73 260.6) scale(.32)" font-size="10" font-weight="normal" fill="#777" text-anchor="middle">10<tspan dy="-4" font-size="7">4</tspan></text>
<text x="187.8" y="181.2" font-size="9.8" font-weight="bold">GFP<tspan dy="-3.6" font-size="7.84">lo</tspan></text>
<rect x="166.8" y="185.38" width="19.88" height="9.42" fill="#fff"/>
<text x="167.6" y="194.5" font-size="9.6" font-weight="bold" text-anchor="start" fill="#000">12.6</text>
<rect x="216.52" y="185.38" width="19.88" height="9.42" fill="#fff"/>
<text x="236" y="194.5" font-size="9.6" font-weight="bold" text-anchor="end" fill="#000">25.3</text>
<rect x="166.8" y="245.58" width="19.88" height="9.42" fill="#fff"/>
<text x="167.6" y="254.7" font-size="9.6" font-weight="bold" text-anchor="start" fill="#000">35.8</text>
<rect x="216.52" y="245.58" width="19.88" height="9.42" fill="#fff"/>
<text x="236" y="254.7" font-size="9.6" font-weight="bold" text-anchor="end" fill="#000">26.2</text>
<text x="156.6" y="245.6" font-size="9.2" font-weight="bold" text-anchor="middle" fill="#000" transform="rotate(-90 156.6 245.6)">Vα2</text>
<line x1="152.6" y1="236.2" x2="152.6" y2="193" stroke="#000" stroke-width="1.4"/>
<path d="M152.6 187.4 L150.4 194 L154.8 194 Z" fill="#000"/>
<text x="166.6" y="273.7" font-size="9.4" font-weight="bold" text-anchor="start" fill="#000">Vβ5</text>
<line x1="187.4" y1="271.1" x2="314.8" y2="271.1" stroke="#000" stroke-width="1.4"/>
<path d="M320.4 271.1 L313.8 268.9 L313.8 273.3 Z" fill="#000"/>
<g fill-rule="evenodd" clip-path="url(#c5)"><path d="M288.8 222.5l-1.8 .1-3-1.4-1.2-.8-3.6-.5-1.4-.9-1.5-1.5-2.8-3.7-3.1-3-.6-2.3 .7-3.7 1.3-3.8 .8-1.5 .2-1.3 .7-.9 2-1.3 4-2.2 1.3-.9 2.4-1.1 2-1.8 2.9-1.5 4.7-3.7 3-.8 .7 0 3 1 2.1 2.8 .4 .7 .8 3.3 1.2 1.5 2.5 2.2 .3 .5 .1 1-.3 1.5 .3 1.7-.2 .8-1.1 1.8-.4 2-1.3 3-.7 1.1-.3 1.3-.5 .8-1.4 1.3-1 1.9-1.2 1.2-1.6 2-1 .4-2.2 1.1-1.8 .4-.4 .5-.8 1.4-.5 .6-1 .6z" fill="#000" stroke="#000" stroke-width="1.5" stroke-linejoin="round"/><path d="M289.5 221.3l-2 .1-3-1-1.5-1-3.2-.4-1.2-.8-2.1-2.2-5.1-6-.2-.5-.1-1 0-.7 .4-1.3-.1-1.3 2.1-5.2 0-1.2 .3-.8 1-.4 1-.7 1.7-.6 1.5-1.3 1-.5 1-1.1 2.5-1.3 2-1.8 2.8-1.3 1.6-1.2 3.1-2.1 3-.8 1.8 .5 1 0 1.7 1.5 1.1 1.6 .6 2.7 .5 1 3.5 3.6 .3 .4-.1 .8-.5 1.2 .4 2.3-1.4 2.3-.1 1.4-1.2 2.3-.1 .7-.9 1.3-.3 1.3-.3 .5-1.7 1.7-.8 1.5-1.7 1.4-1.2 1.3-.6 .2-2.5 1.6-1.3 .2-.7 .5-.7 .8-.3 1-.4 .5z" fill="#2e2e2e"/><path d="M289 220.3l-1.2 .1-2.3-.7-2.3-1.7-1.4 0-1.8-.3-.5-.5-1.3-2.4-2.2-1.2-3.5-4.4-.1-1 .4-1.4 0-1.3 1.2-2.5 .5-2.8 0-1.2 1.7-1 1.8-.5 3.2-3.2 2.8-1.7 1.8-1.6 3-1.3 2.2-1.8 2.6-1.4 2.4-.6 2.2 .4 1.6 1 1.4 1.4 1.3 3.5 2.4 2.8 .7 1.8-.5 1.4 .4 2-1.4 2.3-.3 1.5-1.2 2-.2 1-.7 1.2-.5 1.6-1.8 1.4-1.1 1.8-1.8 1-2.7 2.5-.6 .4-1.4 .3-1.1 .6-.7 .8z" fill="#5c5c5c"/><path d="M287.8 219.1l-.9-.3-.7-.6-.7-1.7-1.9-1.7-1.1-1.7-.7-.4-3.8-.5-.8-.3-.7-.7-2.1-2.7 .2-2.5 .8-1.8 .4-2.2 .5-1.8 2.2-1.3 3.3-3.8 2.7-1.9 1.7-1.5 3.2-1.5 2.1-1.5 2.7-1.3 1.8-.5 1.8 .4 1.2 .6 1.5 1.1 1.7 3 1.6 2 .7 3-.2 1.2 .2 1.8-2.7 4.3-.9 2.7-.9 1.8-2.5 1.2-1.5 1.5-1.5 1-.7 1-.8 2-2.5 .4-.7 .4-1.8 2.7z" fill="#acacac"/><path d="M287.5 215.8l-.5 .1-1.2-1.1-1.3-2-1-.8-1.3-.5-3-.3-.8-.4-.7-.8-1.5-2-.1-.8 .1-1 .6-1.4 .3-2 4.9-6.8 4.8-3.6 3-1.7 2.1-1.5 2.6-.9 1.5-.4 1 .1 1.2 .4 1.6 .9 3.1 3.9 .9 4-.2 2.8-2.6 2.8-.7 1.4-.6 2-.7 1.2-2.2 1.3-2 1.8-1.5 1-1.5 2.2-2.3 .4z" fill="#000"/><path d="M287.8 212l-1-.1-1-.4-2-1.3-.2-.7 .4-1 0-.5-.8-.8-1-.1-1.2 1-.5 .1-1-.3-.7-.6-.3-.5 0-.8 .4-2.2 .5-1.3 1-1.7 1.3-1.8 1.3-2.5 1-.9 2.6-1.6 2.4-1.9 2.8-1.6 1.4-.6 3-.6 1 0 1 .3 2.9 2.6 .8 1 .9 4.3-.4 2-2.5 2.5-2.1 3-2.2 1.8-1.4 1.4-.7 .5-2 .5-.7 .6-1.2 1.4z" fill="#2e2e2e"/><path d="M288.2 208l-1 .2-.7-.2-5-3.5-.1-.7 .2-1.8 1.2-2.1 .6-2.7 1.1-1.2 2.5-1.5 2.8-2.2 2.2-1.1 1.5-.5 3.3-.5 1.2 .2 2.3 2.1 .7 1 1 4-.3 1.5-2.5 2.7-2.2 2.8-3.5 2.6-2 .7z" fill="#5c5c5c"/><path d="M291.2 207l-5-.5-1.4-.8-1.3-1.2-.4-.7 0-.8 .9-5.5 1-1.2 2-1.1 2.5-2 1.5-.8 2.5-.9 3.3-.4 1 .2 1.7 1.5 .7 1 1 3.4 0 1.3-.7 1-4 4.5-3.5 2.4z" fill="#acacac"/><path d="M291.2 206.5l-1 0-4-.7-1-.5-.5-.5-.4-.8-.1-.8 0-4.4 .3-1.3 .7-.9 2-1.2 2.3-1.8 1.3-.7 3-.9 3-.2 1 .2 1.2 .9 .7 1.1 .9 3.2 0 1.3-.7 1-3.8 4.3-3.3 2.2z" fill="#000"/><path d="M291 205.8l-1.2-.3-2.7-1-1-.7-.5-1-.4-2-.2-2 .3-1 .6-.8 1.6-1 2-1.6 1.3-.7 2-.5 2.2-.4 1.8 0 1 .3 .9 .9 .5 1.2 .3 2.3-.4 1.5-1.5 2-2.5 2.5-2.6 1.8z" fill="#2e2e2e"/><path d="M291.8 205l-1 .1-1-.2-2-1.1-.9-.8-.6-1-.4-1.5-.1-1.5 .1-1 .6-.7 2.7-2.2 1.3-.8 1.5-.4 3-.5 1.2 0 1 .2 1 .9 .5 1.3 0 1.7-.4 1.5-1.1 1.6-2.6 2.6-1.4 1.1z" fill="#5c5c5c"/><path d="M291.5 204.5l-1 0-1-.4-1.3-.8-.8-.8-.5-1-.3-1.5 0-1.2 .2-.8 2.7-2.6 1.3-.7 4.4-.7 1.8 .2 .8 .8 .4 1.2-.1 1.6-.6 1.4-1 1.3-2.6 2.7-1.1 .8z" fill="#acacac"/><path d="M291.5 204l-1 0-1-.4-1-.6-.6-.8-.5-1-.2-1.4 0-1 .3-.8 2-2.2 1.3-.8 4.2-.6 1.8 .2 .6 .6 .4 1-.1 1.3-.6 1.5-.9 1.2-2.7 2.8-1 .7z" fill="#000"/><path d="M291.8 203.1l-.8 0-1-.2-.8-.4-.7-.7-.3-1-.2-1.3 .4-1.5 1.4-1.8 1.2-.7 3.5-.4 1.7 .2 .7 .7 .2 .8-.2 1-.4 1-.9 1.2-2.1 2-1 .8z" fill="#2e2e2e"/><path d="M291.5 202.3l-1.5-.2-.6-.3-.4-.8-.2-1 0-1 .8-1.8 1-1 1.2-.4 2.7-.2 1.4 .4 .4 .5 .1 .7-.3 1-.6 1-2.3 2.2z" fill="#5c5c5c"/><path d="M291.8 201.3l-1.3-.1-.7-.8-.2-1.4 .6-1.5 .8-.8 1-.4 1.8-.1 1.3 .3 .4 .5 .1 .5-.6 1.5-1.5 1.5z" fill="#acacac"/><path d="M292.5 200.3l-1 .1-.8-.4-.3-1 .3-1 .5-.7 .8-.4 1.2-.2 1 .2 .6 .6-.3 1.2-1 1.1z" fill="#000"/><circle cx="274.5" cy="222.8" r="1" fill="#000"/></g>
<rect x="249.4" y="184.7" width="71.2" height="70.7" fill="none" stroke="#9a9a9a" stroke-width=".7"/>
<line x1="248.7" y1="185.7" x2="248.7" y2="255.4" stroke="#a4a4a4" stroke-width="1.2" stroke-dasharray=".45 1.35"/>
<line x1="249.4" y1="256.1" x2="319.6" y2="256.1" stroke="#a4a4a4" stroke-width="1.2" stroke-dasharray=".45 1.35"/>
<line x1="277.5" y1="184.7" x2="277.5" y2="255.4" stroke="#4a4a4a" stroke-width="0.85"/>
<line x1="249.4" y1="213" x2="320.6" y2="213" stroke="#4a4a4a" stroke-width="0.85"/>
<line x1="247.8" y1="254.9" x2="249.4" y2="254.9" stroke="#777" stroke-width="0.6"/>
<text class="t" transform="translate(247 256.1) scale(.32)" font-size="10" font-weight="normal" fill="#777" text-anchor="end">10<tspan dy="-4" font-size="7">0</tspan></text>
<line x1="247.8" y1="237.49" x2="249.4" y2="237.49" stroke="#777" stroke-width="0.6"/>
<text class="t" transform="translate(247 238.69) scale(.32)" font-size="10" font-weight="normal" fill="#777" text-anchor="end">10<tspan dy="-4" font-size="7">1</tspan></text>
<line x1="247.8" y1="220.08" x2="249.4" y2="220.08" stroke="#777" stroke-width="0.6"/>
<text class="t" transform="translate(247 221.28) scale(.32)" font-size="10" font-weight="normal" fill="#777" text-anchor="end">10<tspan dy="-4" font-size="7">2</tspan></text>
<line x1="247.8" y1="202.67" x2="249.4" y2="202.67" stroke="#777" stroke-width="0.6"/>
<text class="t" transform="translate(247 203.87) scale(.32)" font-size="10" font-weight="normal" fill="#777" text-anchor="end">10<tspan dy="-4" font-size="7">3</tspan></text>
<line x1="247.8" y1="185.26" x2="249.4" y2="185.26" stroke="#777" stroke-width="0.6"/>
<text class="t" transform="translate(247 186.46) scale(.32)" font-size="10" font-weight="normal" fill="#777" text-anchor="end">10<tspan dy="-4" font-size="7">4</tspan></text>
<line x1="249.9" y1="255.4" x2="249.9" y2="257" stroke="#777" stroke-width="0.6"/>
<text class="t" transform="translate(249.9 260.6) scale(.32)" font-size="10" font-weight="normal" fill="#777" text-anchor="middle">10<tspan dy="-4" font-size="7">0</tspan></text>
<line x1="267.43" y1="255.4" x2="267.43" y2="257" stroke="#777" stroke-width="0.6"/>
<text class="t" transform="translate(267.43 260.6) scale(.32)" font-size="10" font-weight="normal" fill="#777" text-anchor="middle">10<tspan dy="-4" font-size="7">1</tspan></text>
<line x1="284.97" y1="255.4" x2="284.97" y2="257" stroke="#777" stroke-width="0.6"/>
<text class="t" transform="translate(284.97 260.6) scale(.32)" font-size="10" font-weight="normal" fill="#777" text-anchor="middle">10<tspan dy="-4" font-size="7">2</tspan></text>
<line x1="302.5" y1="255.4" x2="302.5" y2="257" stroke="#777" stroke-width="0.6"/>
<text class="t" transform="translate(302.5 260.6) scale(.32)" font-size="10" font-weight="normal" fill="#777" text-anchor="middle">10<tspan dy="-4" font-size="7">3</tspan></text>
<line x1="320.03" y1="255.4" x2="320.03" y2="257" stroke="#777" stroke-width="0.6"/>
<text class="t" transform="translate(320.03 260.6) scale(.32)" font-size="10" font-weight="normal" fill="#777" text-anchor="middle">10<tspan dy="-4" font-size="7">4</tspan></text>
<text x="269" y="182.2" font-size="9.8" font-weight="bold">GFP<tspan dy="-3.6" font-size="7.84">hi</tspan></text>
<rect x="250.6" y="185.38" width="19.88" height="9.42" fill="#fff"/>
<text x="251.4" y="194.5" font-size="9.6" font-weight="bold" text-anchor="start" fill="#000">2.53</text>
<rect x="299.72" y="185.38" width="19.88" height="9.42" fill="#fff"/>
<text x="319.2" y="194.5" font-size="9.6" font-weight="bold" text-anchor="end" fill="#000">92.5</text>
<rect x="250.6" y="245.58" width="14.54" height="9.42" fill="#fff"/>
<text x="251.4" y="254.7" font-size="9.6" font-weight="bold" text-anchor="start" fill="#000">0.9</text>
<rect x="299.72" y="245.58" width="19.88" height="9.42" fill="#fff"/>
<text x="319.2" y="254.7" font-size="9.6" font-weight="bold" text-anchor="end" fill="#000">4.06</text>
<line x1="383.1" y1="177.4" x2="383.1" y2="261.4" stroke="#000" stroke-width="1.2"/>
<line x1="382.5" y1="260.8" x2="507.6" y2="260.8" stroke="#000" stroke-width="1.2"/>
<line x1="380.1" y1="260.8" x2="383.1" y2="260.8" stroke="#000" stroke-width="1.0"/>
<text x="379.5" y="262.9" font-size="5.8" font-weight="bold" text-anchor="end" fill="#000">0%</text>
<line x1="380.1" y1="240.05" x2="383.1" y2="240.05" stroke="#000" stroke-width="1.0"/>
<text x="379.5" y="242.15" font-size="5.8" font-weight="bold" text-anchor="end" fill="#000">25%</text>
<line x1="380.1" y1="219.3" x2="383.1" y2="219.3" stroke="#000" stroke-width="1.0"/>
<text x="379.5" y="221.4" font-size="5.8" font-weight="bold" text-anchor="end" fill="#000">50%</text>
<line x1="380.1" y1="198.55" x2="383.1" y2="198.55" stroke="#000" stroke-width="1.0"/>
<text x="379.5" y="200.65" font-size="5.8" font-weight="bold" text-anchor="end" fill="#000">75%</text>
<line x1="380.1" y1="177.8" x2="383.1" y2="177.8" stroke="#000" stroke-width="1.0"/>
<text x="379.5" y="179.9" font-size="5.8" font-weight="bold" text-anchor="end" fill="#000">100%</text>
<line x1="399.45" y1="187.4" x2="399.45" y2="190.8" stroke="#000" stroke-width="1.0"/>
<line x1="394.25" y1="187.4" x2="404.65" y2="187.4" stroke="#000" stroke-width="1.0"/>
<rect x="389.8" y="190.8" width="19.3" height="70" fill="#d2d2d2" stroke="#000" stroke-width="1.1"/>
<text x="400.25" y="272.2" font-size="6.2" font-weight="bold" text-anchor="middle" fill="#000">Vβ6</text>
<line x1="430.25" y1="185.6" x2="430.25" y2="195.8" stroke="#000" stroke-width="1.0"/>
<line x1="425.05" y1="185.6" x2="435.45" y2="185.6" stroke="#000" stroke-width="1.0"/>
<rect x="420.1" y="195.8" width="20.3" height="65" fill="#d2d2d2" stroke="#000" stroke-width="1.1"/>
<text x="431.05" y="272.2" font-size="6.2" font-weight="bold" text-anchor="middle" fill="#000">Vβ3</text>
<line x1="461.15" y1="207" x2="461.15" y2="215" stroke="#000" stroke-width="1.0"/>
<line x1="455.95" y1="207" x2="466.35" y2="207" stroke="#000" stroke-width="1.0"/>
<rect x="451" y="215" width="20.3" height="45.8" fill="#d2d2d2" stroke="#000" stroke-width="1.1"/>
<text x="461.95" y="272.2" font-size="6.2" font-weight="bold" text-anchor="middle" fill="#000">Vβ2</text>
<line x1="491.9" y1="223.8" x2="491.9" y2="233" stroke="#000" stroke-width="1.0"/>
<line x1="486.7" y1="223.8" x2="497.1" y2="223.8" stroke="#000" stroke-width="1.0"/>
<rect x="481.8" y="233" width="20.2" height="27.8" fill="#d2d2d2" stroke="#000" stroke-width="1.1"/>
<text x="492.7" y="272.2" font-size="6.2" font-weight="bold" text-anchor="middle" fill="#000">Vβ4</text>
<text transform="rotate(-90 350.6 222.5)" x="350.6" y="222.5" font-size="6.4" font-weight="bold" text-anchor="middle">MFI (endogenous Vβ) on GFP<tspan dy="-2.4" font-size="4.6">hi</tspan></text>
<text transform="rotate(-90 358.6 223.4)" x="358.6" y="223.4" font-size="6.4" font-weight="bold" text-anchor="middle">/MFI (endogenous Vβ) on GFP<tspan dy="-2.4" font-size="4.6">lo</tspan></text>
<rect x="40.6" y="308.7" width="71.2" height="70" fill="none" stroke="#9a9a9a" stroke-width=".7"/>
<path d="M83.4 378 C84.4 376 84.6 350 85.6 333 C86.2 322 86.6 315 87 313.3 C87.5 315 87.9 322 88.4 333 C89.3 350 89.5 376 90.4 378 Z" fill="#9c9c9c"/>
<path d="M95.9 378 C96.4 370 96.5 330 97.3 313.8 C98 320 98.4 335 99.6 349 C100.8 360 103 371 105 375 C106 377 107 377.8 107.8 378 Z" fill="#333"/>
<line x1="39" y1="378.2" x2="40.6" y2="378.2" stroke="#777" stroke-width="0.6"/>
<text class="t" transform="translate(38.2 379.3) scale(.3)" font-size="10" fill="#666" text-anchor="end">0</text>
<line x1="39" y1="364.5" x2="40.6" y2="364.5" stroke="#777" stroke-width="0.6"/>
<text class="t" transform="translate(38.2 365.6) scale(.3)" font-size="10" fill="#666" text-anchor="end">20</text>
<line x1="39" y1="350.8" x2="40.6" y2="350.8" stroke="#777" stroke-width="0.6"/>
<text class="t" transform="translate(38.2 351.9) scale(.3)" font-size="10" fill="#666" text-anchor="end">40</text>
<line x1="39" y1="337.1" x2="40.6" y2="337.1" stroke="#777" stroke-width="0.6"/>
<text class="t" transform="translate(38.2 338.2) scale(.3)" font-size="10" fill="#666" text-anchor="end">60</text>
<line x1="39" y1="323.4" x2="40.6" y2="323.4" stroke="#777" stroke-width="0.6"/>
<text class="t" transform="translate(38.2 324.5) scale(.3)" font-size="10" fill="#666" text-anchor="end">80</text>
<line x1="39" y1="309.7" x2="40.6" y2="309.7" stroke="#777" stroke-width="0.6"/>
<text class="t" transform="translate(38.2 310.8) scale(.3)" font-size="10" fill="#666" text-anchor="end">100</text>
<line x1="41.1" y1="378.7" x2="41.1" y2="380.3" stroke="#777" stroke-width="0.6"/>
<text class="t" transform="translate(41.1 383.9) scale(.32)" font-size="10" fill="#777" text-anchor="middle">10<tspan dy="-4" font-size="7">0</tspan></text>
<line x1="58.63" y1="378.7" x2="58.63" y2="380.3" stroke="#777" stroke-width="0.6"/>
<text class="t" transform="translate(58.63 383.9) scale(.32)" font-size="10" fill="#777" text-anchor="middle">10<tspan dy="-4" font-size="7">1</tspan></text>
<line x1="76.17" y1="378.7" x2="76.17" y2="380.3" stroke="#777" stroke-width="0.6"/>
<text class="t" transform="translate(76.17 383.9) scale(.32)" font-size="10" fill="#777" text-anchor="middle">10<tspan dy="-4" font-size="7">2</tspan></text>
<line x1="93.7" y1="378.7" x2="93.7" y2="380.3" stroke="#777" stroke-width="0.6"/>
<text class="t" transform="translate(93.7 383.9) scale(.32)" font-size="10" fill="#777" text-anchor="middle">10<tspan dy="-4" font-size="7">3</tspan></text>
<line x1="111.23" y1="378.7" x2="111.23" y2="380.3" stroke="#777" stroke-width="0.6"/>
<text class="t" transform="translate(111.23 383.9) scale(.32)" font-size="10" fill="#777" text-anchor="middle">10<tspan dy="-4" font-size="7">4</tspan></text>
<line x1="82.6" y1="312.6" x2="92" y2="312.6" stroke="#333" stroke-width="0.8"/>
<line x1="82.6" y1="311.2" x2="82.6" y2="314" stroke="#333" stroke-width="0.8"/>
<line x1="92" y1="311.2" x2="92" y2="314" stroke="#333" stroke-width="0.8"/>
<line x1="94.6" y1="312.6" x2="107.6" y2="312.6" stroke="#333" stroke-width="0.8"/>
<line x1="94.6" y1="311.2" x2="94.6" y2="314" stroke="#333" stroke-width="0.8"/>
<line x1="107.6" y1="311.2" x2="107.6" y2="314" stroke="#333" stroke-width="0.8"/>
<text x="88.5" y="305" font-size="9.4" font-weight="bold" text-anchor="middle" fill="#000">lo</text>
<text x="98.8" y="305" font-size="9.4" font-weight="bold" text-anchor="middle" fill="#000">hi</text>
<text x="29.3" y="358.2" font-size="9.6" font-weight="bold" text-anchor="middle" fill="#000" transform="rotate(-90 29.3 358.2)">% of Max</text>
<line x1="25.8" y1="334.6" x2="25.8" y2="315.2" stroke="#000" stroke-width="1.4"/>
<path d="M25.8 309.6 L23.6 316.2 L28 316.2 Z" fill="#000"/>
<text x="41.2" y="396.8" font-size="9.5" font-weight="bold" text-anchor="start" fill="#000">GFP</text>
<line x1="63.8" y1="394.1" x2="104.6" y2="394.1" stroke="#000" stroke-width="1.4"/>
<path d="M110.2 394.1 L103.6 391.9 L103.6 396.3 Z" fill="#000"/>
<line x1="117" y1="345.7" x2="139.6" y2="345.7" stroke="#000" stroke-width="1.4"/>
<path d="M145.2 345.7 L138.6 343.5 L138.6 347.9 Z" fill="#000"/>
<g fill-rule="evenodd" clip-path="url(#c6)"><path d="M184 379.8l-4.2 .2-4.6-.3-2.2-.4-.9-.5 .3-1.3 1.6-2.3 .4-1.2-.3-2.2-.5-2.8 0-1.8 .3-1.2 .9-2.2 2.7-4.8 2-4 .5-1.2 .5-2.8 .7-.7 1.6-.7 5-1.5 3.2-.5 5.2-.3 1.6-.3 1.2-.6 1 .1 .5 .7 .3 2.8-.5 4-.6 2-.9 2-2.4 4.2-5.9 9-1.3 2.7 .1 1.3 1.4 2.8 .1 .8-.8 .4-1.8 .3z" fill="#000" stroke="#000" stroke-width="1.8" stroke-linejoin="round"/><path d="M180 379.3l-4.8-.3-.7-.4-1.2-.1-.2-.3 1.5-2.4 .1-1.3 .2-.3-.2-2.7-.2-.3 0-.7-.3-1.3 .4-3 .9-2.2 4.8-9.2 .9-3.5 3.4-1.8 4.4-1.2 2.2-.4 3-.1 2.3 .1 .3-.2 .7 .2 2-.6 .2 .5 .2 2.4-.3 .8-.2 3-.9 2.8-2.8 5.2-5.7 8.8-1.6 3 0 1.7 1.4 2.7-2 .5-3.3-.1-1 .3z" fill="#2e2e2e"/><path d="M181.5 378l-2 .2-2.7-.3-1.5-.4-.1-.3 .5-1 .1-1.7-.7-5.5 .2-1.5 .9-2.7 1.2-2.8 2.7-5.2 2.1-4.8 1.8-1.3 2.8-1.4 2.2-.8 1.8-.3 3.4 0 4 1.3 .2 .5-.2 1-.3 3.2-.7 2.4-2.7 5.9-6.9 10.7-.7 2.6 0 .4 .5 .8-.2 .2-1.2-.4-1 0-2 .9z" fill="#5c5c5c"/><path d="M180.5 376.5l-.7 .1-1.3-.3-.6-.3-.3-.5-.7-1.5-.5-1.8-.1-3.4 .3-2 1.6-4.3 3.6-7.5 1.4-2.3 2.8-2.1 2.2-1.2 1.3-.4 1.7-.3 3.6 .9 .9 .6 .4 .8 .2 .8 0 1.4-.9 4.3-1.7 4.5-4.8 7.5-2.7 3.4-1.2 1.1-1.8 .9-1.7 1.3z" fill="#acacac"/><path d="M180.8 374.3l-1.3 .1-1.1-.6-.8-1.6-.3-1.4-.1-2.3 .2-1.5 1.8-5.4 3.2-6.4 1.6-1.9 2.4-2.1 2.1-1.2 1.7-.5 1 0 1 .3 1.9 1.2 .5 .8 .2 1-.4 4.7-1.1 3.3-1.6 3-3.4 5.2-1.5 2-1.8 1.5z" fill="#000"/><path d="M181.2 372.8l-1.2 0-1-.6-.5-.8-.3-1.4-.2-1.8 .2-1.7 1.4-4.5 3.2-6.2 1.6-2 2.1-1.9 2-1.3 1.5-.5 1.5 .2 1.6 1.2 .4 .7 .3 1-.1 4-.9 3-2.1 4-1.8 2.6-1.2 2-1.2 1.4-1 1-1 .6z" fill="#2e2e2e"/><path d="M182.8 371.8l-1.6 .2-1-.2-.7-.7-.5-1.1-.4-1.8 0-1.4 1.2-4.3 3.2-6.4 1.5-1.9 2-1.7 2-1.4 1.3-.5 1.2 .2 .8 .3 .5 .7 .6 1 .3 1 .1 3-.7 2.4-2.3 4.8-3.4 5-1.9 1.9-1 .6z" fill="#5c5c5c"/><path d="M182.2 371.3l-1-.1-.8-.4-.6-1-.6-1.6-.1-2 1.1-3.7 3-6 1.6-2 2-1.7 1.7-1.2 1.3-.4 1 .1 .6 .5 .6 .6 .7 2.1 .1 2.5-.7 2.2-2.3 4.8-3.5 5-1.8 1.7-1 .4z" fill="#acacac"/><path d="M182.8 370.8l-1.3-.1-.7-.5-.8-1-.5-1.2-.1-1.8 1-3.4 2.8-5.8 1.5-2 1.8-1.7 1.7-1.2 1.3-.4 1 .1 1.1 1 .7 1.7 .1 2.3-.5 2.2-2.4 5-3.2 4.5-1.8 1.7z" fill="#000"/><path d="M183.5 369.8l-1 .1-1-.3-.7-.7-.6-.9-.2-1.8 .8-3.2 2.6-5.2 1.6-2.3 1.5-1.5 1.5-1 1.2-.5 1 .2 1 1 .5 1.3 .1 2-.5 1.8-2.6 5.4-3.2 4.3-1 .9z" fill="#2e2e2e"/><path d="M183.8 369.1l-1 .1-.8-.2-.8-.5-.6-1-.1-1.5 .7-3 2.3-4.7 1.5-2.2 1.5-1.5 1.3-1 1-.4 1 0 .9 .8 .5 1.2 0 2-.4 1.8-2.3 5-3.2 4-.8 .7z" fill="#5c5c5c"/><path d="M184 368.3l-1 .2-.8-.2-.5-.3-.5-.8-.2-1.4 .8-3 1.8-4 1.4-2 2.7-2.6 1.1-.4 .7 .1 .7 .6 .5 1 0 1.7-.4 1.8-2.3 5-2.8 3.4z" fill="#acacac"/><path d="M183.8 367.8l-1.3 0-.5-.4-.4-.6-.1-1.8 .7-2.5 1.6-3.5 1.2-1.8 2.5-2.3 1-.5 .7 0 .8 .7 .3 1.1 0 1.8-.5 1.5-1.4 3.3-.7 1.2-2.7 3.1z" fill="#000"/><path d="M184 366.8l-.8 0-.4-.2-.6-.9 .1-1.9 .7-2.2 1.2-2.6 1.3-1.6 2-1.6 .7-.3 .6 0 .7 .7 .2 1.3-.1 1.3-.6 1.4-1.1 2.6-.8 1.2-1.9 2z" fill="#2e2e2e"/><path d="M184.5 365.8l-1 .1-.5-.4-.2-.5 .1-1.8 .6-1.9 1-2.1 1.3-1.5 1.7-1.2 1 0 .6 .7 0 1.3-1.1 3.2-1.3 2.3-1.2 1.2z" fill="#5c5c5c"/><path d="M184.8 365l-.6 .2-.4-.1-.5-.9 .1-1.4 .6-1.7 .8-1.5 1-1.3 1.2-.8 1-.1 .5 .6 0 .8-.7 2.5-1.3 2.3-.9 .9z" fill="#acacac"/><path d="M184.5 364.5l-.5-.3-.3-1 .3-1.2 .5-1.2 .7-1.3 .8-.8 .8-.5 .7-.1 .4 .4 .1 .7-.9 2.8-1.3 1.8-.6 .4z" fill="#000"/><path d="M185.5 362.8l-.5 .1-.1-.1-.1-.8 .7-1.4 .7-.5 .3 .1 .1 .3-.1 .7-.5 1z" fill="#2e2e2e"/></g>
<rect x="166.2" y="308.1" width="70.6" height="70.7" fill="none" stroke="#9a9a9a" stroke-width=".7"/>
<line x1="165.5" y1="309.1" x2="165.5" y2="378.8" stroke="#a4a4a4" stroke-width="1.2" stroke-dasharray=".45 1.35"/>
<line x1="166.2" y1="379.5" x2="235.8" y2="379.5" stroke="#a4a4a4" stroke-width="1.2" stroke-dasharray=".45 1.35"/>
<line x1="184.3" y1="308.1" x2="184.3" y2="378.8" stroke="#4a4a4a" stroke-width="0.85"/>
<line x1="166.2" y1="358" x2="236.8" y2="358" stroke="#4a4a4a" stroke-width="0.85"/>
<line x1="164.6" y1="378.3" x2="166.2" y2="378.3" stroke="#777" stroke-width="0.6"/>
<text class="t" transform="translate(163.8 379.5) scale(.32)" font-size="10" font-weight="normal" fill="#777" text-anchor="end">10<tspan dy="-4" font-size="7">0</tspan></text>
<line x1="164.6" y1="360.89" x2="166.2" y2="360.89" stroke="#777" stroke-width="0.6"/>
<text class="t" transform="translate(163.8 362.09) scale(.32)" font-size="10" font-weight="normal" fill="#777" text-anchor="end">10<tspan dy="-4" font-size="7">1</tspan></text>
<line x1="164.6" y1="343.48" x2="166.2" y2="343.48" stroke="#777" stroke-width="0.6"/>
<text class="t" transform="translate(163.8 344.68) scale(.32)" font-size="10" font-weight="normal" fill="#777" text-anchor="end">10<tspan dy="-4" font-size="7">2</tspan></text>
<line x1="164.6" y1="326.07" x2="166.2" y2="326.07" stroke="#777" stroke-width="0.6"/>
<text class="t" transform="translate(163.8 327.27) scale(.32)" font-size="10" font-weight="normal" fill="#777" text-anchor="end">10<tspan dy="-4" font-size="7">3</tspan></text>
<line x1="164.6" y1="308.66" x2="166.2" y2="308.66" stroke="#777" stroke-width="0.6"/>
<text class="t" transform="translate(163.8 309.86) scale(.32)" font-size="10" font-weight="normal" fill="#777" text-anchor="end">10<tspan dy="-4" font-size="7">4</tspan></text>
<line x1="166.7" y1="378.8" x2="166.7" y2="380.4" stroke="#777" stroke-width="0.6"/>
<text class="t" transform="translate(166.7 384) scale(.32)" font-size="10" font-weight="normal" fill="#777" text-anchor="middle">10<tspan dy="-4" font-size="7">0</tspan></text>
<line x1="184.09" y1="378.8" x2="184.09" y2="380.4" stroke="#777" stroke-width="0.6"/>
<text class="t" transform="translate(184.09 384) scale(.32)" font-size="10" font-weight="normal" fill="#777" text-anchor="middle">10<tspan dy="-4" font-size="7">1</tspan></text>
<line x1="201.47" y1="378.8" x2="201.47" y2="380.4" stroke="#777" stroke-width="0.6"/>
<text class="t" transform="translate(201.47 384) scale(.32)" font-size="10" font-weight="normal" fill="#777" text-anchor="middle">10<tspan dy="-4" font-size="7">2</tspan></text>
<line x1="218.86" y1="378.8" x2="218.86" y2="380.4" stroke="#777" stroke-width="0.6"/>
<text class="t" transform="translate(218.86 384) scale(.32)" font-size="10" font-weight="normal" fill="#777" text-anchor="middle">10<tspan dy="-4" font-size="7">3</tspan></text>
<line x1="236.24" y1="378.8" x2="236.24" y2="380.4" stroke="#777" stroke-width="0.6"/>
<text class="t" transform="translate(236.24 384) scale(.32)" font-size="10" font-weight="normal" fill="#777" text-anchor="middle">10<tspan dy="-4" font-size="7">4</tspan></text>
<text x="189.8" y="305.2" font-size="9.8" font-weight="bold">GFP<tspan dy="-3.6" font-size="7.84">lo</tspan></text>
<rect x="216.72" y="309.08" width="19.88" height="9.42" fill="#fff"/>
<text x="236.2" y="318.2" font-size="9.6" font-weight="bold" text-anchor="end" fill="#000">17.9</text>
<text x="155.4" y="370.4" font-size="9.2" font-weight="bold" text-anchor="middle" fill="#000" transform="rotate(-90 155.4 370.4)">Vα2</text>
<line x1="152.3" y1="360" x2="152.3" y2="315.6" stroke="#000" stroke-width="1.4"/>
<path d="M152.3 310 L150.1 316.6 L154.5 316.6 Z" fill="#000"/>
<text x="166.6" y="396.8" font-size="9.4" font-weight="bold" text-anchor="start" fill="#000">Vβ5</text>
<line x1="187.4" y1="394.1" x2="314.2" y2="394.1" stroke="#000" stroke-width="1.4"/>
<path d="M319.8 394.1 L313.2 391.9 L313.2 396.3 Z" fill="#000"/>
<g fill-rule="evenodd" clip-path="url(#c7)"><path d="M271.8 380l-.6 .2-1.7 0-5.5-.3-2-.5-.3-.4 .9-1.8 1.9-1.2 .6-.8 .3-.7-.2-1-2.1-6.5-.3-1.8 0-1.2 .3-2.2 2.8-7.3 1.7-3.3 1.6-2.4 1.6-1.9 2-1.5 5.7-3.2 6-2.7 3.3-1.7 1.7-.5 1.5 .1 .9 .8 .8 2.3 .3 3.3 .8 4.2 .1 2.2-.5 2.8-.9 2-.7 1-3 3-5.8 5.4-2 1.5-7.9 4.9-1.9 1.7-.7 1.5-.1 .5 .2 1 1.5 1.5 2.7 1.3 .9 .7 .2 .5-.9 .4z" fill="#000" stroke="#000" stroke-width="1.8" stroke-linejoin="round"/><path d="M270.8 379.3l-3-.4-.8-.2-2.5 0-1-.5 .5-.4 1-.6 1-1.2 .4-1 0-1.5-2.3-6-.7-2.3 0-.7 .2-2.3 1.4-4.2 .9-2 2.4-4.5 2.2-3.3 1-1 3-2.4 5-2.6 5-2.2 3-1.5 2-.5 1.3 .1 .7 .9 .5 1.5 .3 5.3 .5 2.4 0 3.3-.3 1-1.6 2.7-1.1 1.3-2.5 2.3-2.1 2.2-1.6 1.2-1.4 1.6-1.7 1.3-3.3 2.1-4.2 2.2-2.7 2.6-.8 1.2-.2 1 .2 1.8 2.2 2 1.6 .8-.3 .2-1.5 .1z" fill="#2e2e2e"/><path d="M268 372.5l-.5-.7-1.1-2.8-1.5-3-.5-1.2 0-1 .1-1.3 1.7-5.3 3.7-6.7 1.3-1.9 2.6-2.3 5-3.1 7.4-3.3 2.3-.5 1.5-.1 .8 1.5 .3 2 .1 2.2-.2 5.8-.4 1.2-1.4 2.5-.8 1-2.2 1.9-1.8 2.1-1.9 1.7-2.1 2.3-4.2 3-3.2 1.2-1 .5-1.8 1.9-1.3 1.1z" fill="#5c5c5c"/><path d="M270.2 366.8l-1.2 .1-2.2-1.3-.8-1.1-.2-1.5 .7-4.2 .4-1.3 4.1-7 1.5-1.8 2-1.9 5.5-3.5 6-2.1 1.5-.1 1.3 .5 .7 1.4 .1 .8 .1 1.4-.3 1.8-1.6 5-2.2 3.5-2.8 3.3-6 5.2-1.8 1.1z" fill="#acacac"/><path d="M269.8 365l-1.6-.3-.6-.5-.3-.4-.2-1.3 .1-3.5 .6-1.8 2.4-4.4 1.5-2 3.1-3.4 5.4-3.5 2.3-.7 3-.6 1.3 0 .8 .4 .5 .8 .3 1.7-.2 1.7-.5 2-1.1 2.6-3.6 5.2-1.4 1.5-4.8 4.1z" fill="#000"/><path d="M270.5 363.6l-1.3 .1-.5-.2-.4-.5-.3-1.3-.1-2.7 .3-1.2 1.9-3.8 1.9-2.8 2.9-3.2 5.6-3.6 1.3-.4 2.2-.4 1.5 .1 1 .4 .6 .7 .2 1.2-.1 1.8-.4 1.8-1 1.9-3.9 5.5-1.1 1.3-4.3 3.5-1 .5-3.3 .6z" fill="#2e2e2e"/><path d="M270.8 362.5l-1 .1-.8-.6-.4-1.2-.1-1.8 .2-1 1.7-3.8 1.8-2.7 2.8-3 5.8-3.6 1.2-.5 1.5-.1 1.3 .1 1 .4 .5 .7 .3 1.3-.1 1.4-.4 1.6-.9 1.7-4.2 5.7-1 1.1-3.8 3.1-1.2 .4z" fill="#5c5c5c"/><path d="M272.2 361.5l-1.4 0-.8-.2-.5-.8-.3-1.3 .2-1.2 1-3 1.6-2.6 3.2-3.6 5.6-3.4 1-.4 1.2-.1 1.2 .1 .8 .4 .6 .8 .2 1 0 1.3-.4 1.5-1.1 2-3.7 5-1.1 1.2-3.3 2.6-1.4 .5z" fill="#acacac"/><path d="M274.5 361l-3.3-.2-.7-.4-.4-.6-.2-1 .1-1.3 .6-2.3 .8-1.4 3.1-3.9 1.3-1.1 5.7-3.3 1.5-.2 1.2 .4 .9 1.1 .2 1.4-.4 1.8-.8 1.8-4.6 6-3.3 2.6z" fill="#000"/><path d="M275 360.3l-1.2 0-1.3-.2-.8-.3-.6-.8-.2-1 .1-1.5 .2-1.3 .6-1.2 3-3.6 1.2-1.1 5.2-2.9 1.3-.2 1 .3 .7 1 .1 1.3-.2 1.4-.7 1.6-4.1 5.4-2.8 2.4z" fill="#2e2e2e"/><path d="M275 359.8l-1 0-1-.2-.8-.4-.5-.7-.2-1 0-1.3 .3-1.2 .5-1 2.6-3.2 1.3-1.2 5-2.6 1-.1 .8 .2 .6 .9 .1 1.2-.3 1.6-.7 1.2-3.7 5-2.5 2z" fill="#5c5c5c"/><path d="M274.8 359.3l-1-.1-.8-.3-.5-.4-.3-.7-.1-2 .8-2 2.1-2.7 1.3-1.1 4.5-2.3 1-.2 .7 .2 .6 1.1-.1 1.7-.6 1.3-1.4 2.2-1.5 2-1.3 1.3-2.2 1.6z" fill="#acacac"/><path d="M275.2 358.8l-1.4-.1-.8-.5-.3-.4-.2-1 0-1 .8-2 1.9-2.5 1.3-1.1 4-2 1-.1 .6 .1 .5 .8 0 1.5-.5 1.3-1.2 2-2.5 3-1.9 1.4z" fill="#000"/><path d="M275.5 358l-.7 .1-.8-.2-.5-.5-.3-.6 .1-1.8 .9-1.8 1.6-1.8 1.2-1 3-1.4 1-.1 .5 .1 .4 .8 0 1-.5 1.2-1.1 2-2.3 2.6-1.2 .9z" fill="#2e2e2e"/><path d="M275.2 357.5l-1-.3-.3-.4-.2-.8 .3-1.5 1-1.6 1.2-1.5 1.4-.9 2.2-.9 .7-.1 .5 .2 .3 .5-.1 1-.6 1.6-.9 1.4-2.2 2.3-1.3 .8z" fill="#5c5c5c"/><path d="M276 356.8l-1.1 0-.6-.8 .1-1.2 .8-1.6 1-1.2 1.3-1 1.7-.7 1 0 .4 .5 0 .7-1 2.3-1.8 2z" fill="#acacac"/><path d="M276 356.3l-.8-.1-.4-.7 .2-1 .7-1.3 1-1.2 1.1-.7 1.2-.5 .8 .1 .2 .3 0 .8-.8 1.8-1.6 1.7z" fill="#000"/><path d="M276.8 354.8l-.4 0-.2-.3 .1-.5 .4-.8 1.1-.9 .4-.2 .4 .1 .1 .6-.5 .8-.7 .8z" fill="#2e2e2e"/></g>
<rect x="248.8" y="308.1" width="71.8" height="70.7" fill="none" stroke="#9a9a9a" stroke-width=".7"/>
<line x1="248.1" y1="309.1" x2="248.1" y2="378.8" stroke="#a4a4a4" stroke-width="1.2" stroke-dasharray=".45 1.35"/>
<line x1="248.8" y1="379.5" x2="319.6" y2="379.5" stroke="#a4a4a4" stroke-width="1.2" stroke-dasharray=".45 1.35"/>
<line x1="267.5" y1="308.1" x2="267.5" y2="378.8" stroke="#4a4a4a" stroke-width="0.85"/>
<line x1="248.8" y1="358.2" x2="320.6" y2="358.2" stroke="#4a4a4a" stroke-width="0.85"/>
<line x1="247.2" y1="378.3" x2="248.8" y2="378.3" stroke="#777" stroke-width="0.6"/>
<text class="t" transform="translate(246.4 379.5) scale(.32)" font-size="10" font-weight="normal" fill="#777" text-anchor="end">10<tspan dy="-4" font-size="7">0</tspan></text>
<line x1="247.2" y1="360.89" x2="248.8" y2="360.89" stroke="#777" stroke-width="0.6"/>
<text class="t" transform="translate(246.4 362.09) scale(.32)" font-size="10" font-weight="normal" fill="#777" text-anchor="end">10<tspan dy="-4" font-size="7">1</tspan></text>
<line x1="247.2" y1="343.48" x2="248.8" y2="343.48" stroke="#777" stroke-width="0.6"/>
<text class="t" transform="translate(246.4 344.68) scale(.32)" font-size="10" font-weight="normal" fill="#777" text-anchor="end">10<tspan dy="-4" font-size="7">2</tspan></text>
<line x1="247.2" y1="326.07" x2="248.8" y2="326.07" stroke="#777" stroke-width="0.6"/>
<text class="t" transform="translate(246.4 327.27) scale(.32)" font-size="10" font-weight="normal" fill="#777" text-anchor="end">10<tspan dy="-4" font-size="7">3</tspan></text>
<line x1="247.2" y1="308.66" x2="248.8" y2="308.66" stroke="#777" stroke-width="0.6"/>
<text class="t" transform="translate(246.4 309.86) scale(.32)" font-size="10" font-weight="normal" fill="#777" text-anchor="end">10<tspan dy="-4" font-size="7">4</tspan></text>
<line x1="249.3" y1="378.8" x2="249.3" y2="380.4" stroke="#777" stroke-width="0.6"/>
<text class="t" transform="translate(249.3 384) scale(.32)" font-size="10" font-weight="normal" fill="#777" text-anchor="middle">10<tspan dy="-4" font-size="7">0</tspan></text>
<line x1="266.98" y1="378.8" x2="266.98" y2="380.4" stroke="#777" stroke-width="0.6"/>
<text class="t" transform="translate(266.98 384) scale(.32)" font-size="10" font-weight="normal" fill="#777" text-anchor="middle">10<tspan dy="-4" font-size="7">1</tspan></text>
<line x1="284.66" y1="378.8" x2="284.66" y2="380.4" stroke="#777" stroke-width="0.6"/>
<text class="t" transform="translate(284.66 384) scale(.32)" font-size="10" font-weight="normal" fill="#777" text-anchor="middle">10<tspan dy="-4" font-size="7">2</tspan></text>
<line x1="302.34" y1="378.8" x2="302.34" y2="380.4" stroke="#777" stroke-width="0.6"/>
<text class="t" transform="translate(302.34 384) scale(.32)" font-size="10" font-weight="normal" fill="#777" text-anchor="middle">10<tspan dy="-4" font-size="7">3</tspan></text>
<line x1="320.02" y1="378.8" x2="320.02" y2="380.4" stroke="#777" stroke-width="0.6"/>
<text class="t" transform="translate(320.02 384) scale(.32)" font-size="10" font-weight="normal" fill="#777" text-anchor="middle">10<tspan dy="-4" font-size="7">4</tspan></text>
<text x="271.8" y="305.2" font-size="9.8" font-weight="bold">GFP<tspan dy="-3.6" font-size="7.84">hi</tspan></text>
<rect x="299.32" y="309.08" width="19.88" height="9.42" fill="#fff"/>
<text x="318.8" y="318.2" font-size="9.6" font-weight="bold" text-anchor="end" fill="#000">69.9</text>
<g fill-rule="evenodd" clip-path="url(#c8)"><path d="M391 372l-.5 .2-1.3 0-1.4-.5-2.3-1.7-3-1.5-.7-.7-.5-1-.3-1.6-.1-4 .5-2.4 1.2-2.6 1-1.2 1.4-1.3 .5-.9 .1-.6-.4-1-1-1.2-3.4-2.6-1.3-1.2-1.2-1.4-1.1-2.3-.6-2-.2-2.5 .5-2.8 1.3-2.2 2-1.9 1.8-1 1.8-.8 4-1.2 7.4-1.3 11-.9 2.8 0 1.8-.2 4.7 0 1.7-.2 4.3 .1 2.7 .3 2 .5 1 .5 .7 .6 .5 1 0 .5-.5 1.2-.9 1-9 6-3.8 2.9-2 1.2-2.2 1.3-2.8 1.2-6.1 2.4-2.6 1.3-1.6 1-1.3 1.3-.6 1-.2 1.2 .4 1.1 1.2 1.7 1 2.2 .3 1 .1 2-.4 2.2-.7 2.3-.9 1.5-3 3.7-1.1 1.8zM393.5 380.8l-1.3 .2-4 0-4.2-.4-2-.3-1.8-.6-.6-.5 0-.4 .7-1.6 .7-.7 .8-.5 2.4-.9 2.3-.5 1.3-.1 5 0 2.2 .3 1.8 .5 2.5 1.2 .6 .7 .6 1.3 .1 .5-.1 .2-1 .7-3.3 .7z" fill="#000" stroke="#000" stroke-width="1.5" stroke-linejoin="round"/><path d="M390 370.1l-1.5-.1-4.5-2.7-.9-.8-.6-1.5-.4-4 .5-2 1.1-2 .7-1 1.9-1.5 1.1-1.3 .8-1.4 .1-.8-.3-.8-.8-.7-3-1.7-4-1.8-1.2-1-1.1-1.8-.9-2.4-.3-2.6 .4-2.7 1.3-2.3 1.6-1.4 2.2-1.4 4.8-1.7 4.8-1.1 4.7-.4 .5-.2 2-.1 .5-.2 3.3 0 7 .3 .7-.1 6.7 .4 2 .5 2 .2 1.8 .3 1.9 .7-1.6 1.8-2.5 2.2-3.3 2.5-2.1 2-2.4 1.8-3.5 2.2-2.7 1.3-6 2.3-4.8 2.1-2.2 1.3-1.2 1-.6 1-.1 1 .5 1.3 1.6 2.2 .9 1.8 .6 2.2 .1 2.5-.7 2.7-1.1 1.6zM392.8 380.3l-5.3 0-.5-.3-2.8-.5-1.7-.7-.6-.6 .1-.2 1.4-.8 3.8-1.1 3.6-.2 1.7 .1 5.3 1.5 .6 .3 .6 .7-.2 .3-2 .3-.8 .4z" fill="#2e2e2e"/><path d="M390.8 347.3l-.8 .1-2-.3-6-1.5-2-1.1-2.2-2-.7-2.3-.3-2 .2-1.4 .8-2.3 .4-.8 1-.9 3.8-2.2 5.2-1.7 3.8-.8 8-.4 3.8 .1 7.2 .9 1.7 .8 2.3 1.7 .3 .6-.4 1.4-.5 1.6-.7 1.2-1.1 1.2-3.6 2.9-2.8 1.5-4 1.8-6.2 2.3zM389.2 367.1l-.7-.2-3.1-1.7-.5-.7-.3-.7-.3-2.3 .3-2 .8-1.3 1.1-.7 1.7-.1 2 .7 1.7 1.4 .7 1.3 0 1.2-1 2-1.4 2.2z" fill="#5c5c5c"/><path d="M390.5 345.5l-2-.1-6-.9-1.6-.7-2.3-1.8-1.2-1.5-.4-2.5 .3-1.8 1.6-2.2 2.6-1.8 2.5-1.3 5.8-1.6 2.7-.5 8.3-.2 3.4 .3 2.6 .4 2 .6 1.1 .6 .9 .7 1.1 1.6 .3 1.4-.2 .8-.6 1-2.2 2.2-2.8 2-4.4 2.2-5.5 1.9-3.3 .8z" fill="#acacac"/><path d="M389.8 344.8l-7-1.2-1.8-.8-2-1.6-1-1.2-.5-1.8 .3-1.7 1.4-2 2.6-1.8 2.4-1.4 6.8-1.8 1.5-.2 8 0 4.5 .4 1.8 .6 1.7 .9 1.2 1 .8 1 .1 1-.2 .8-1.4 2-2.6 2.2-3.4 2-2 1-5.5 1.7-3 .6z" fill="#000"/><path d="M391 343.8l-2 0-4-.7-2-.6-1.5-.7-2.1-1.8-.8-1.2-.1-1.6 .7-1.4 1.3-1.4 3.5-2.2 3.8-1 3.2-1 1.2-.2 5.8 0 6 .5 1 .3 1 .6 1.8 1.8 .3 .8 .1 .8-.9 2-1.5 1.4-3.2 2.3-1.8 .9-5 1.5z" fill="#2e2e2e"/><path d="M390.2 343.3l-1.7-.1-3.5-.8-1.8-.5-1.2-.7-1.8-1.5-.8-1.2-.2-1.3 .6-1.2 1.3-1.2 3.1-2.2 3.6-.8 3-1 1.2-.3 5.8 0 5.7 .6 1.6 .7 1.2 1.2 .4 .8 .1 1-.2 1-.3 .7-1.2 1.3-3.1 2.4-1.5 .7-5.3 1.5z" fill="#5c5c5c"/><path d="M389.8 342.8l-1.6-.2-2.7-.6-1.7-.6-1.2-.6-1.4-1.3-1-1.3-.1-1 .4-1 1.5-1.4 2.5-1.7 3.5-.9 4-1.2 5.5-.1 4.7 .7 2 .6 1.2 1 .4 1.6-.4 1.4-1.1 1.3-2.8 2.3-1.3 .6-5.4 1.6z" fill="#acacac"/><path d="M391 342.3l-1.8 .1-1.7-.3-2.3-.6-1.7-.7-1.3-1-1.1-1.6-.3-.7 .2-1 1.1-1.3 2.4-1.7 7.5-2.2 4.5-.1 2.5 .3 4 .8 1 .5 .7 .7 .4 1.3-.4 1.2-1.7 2-1.8 1.5-1.2 .6-5.2 1.5z" fill="#000"/><path d="M391.8 341.5l-2 .2-1.6-.1-2-.5-1.7-.8-1.1-.8-.8-1-.3-1 .2-1 1-1.3 1.7-1.2 7.3-2.1 3.7-.1 2.6 .3 3 .8 1 .6 .4 .5 .3 .8-.2 1-1.4 2-1.1 1.1-1.3 .5-5 1.6z" fill="#2e2e2e"/><path d="M392 341l-3.5 0-1.7-.4-1.5-.6-1.1-.8-.6-.7-.3-1 .3-1 1-1.3 1.4-.8 5-1.6 1.8-.4 2.7-.1 2.9 .2 2.1 .6 1.3 .9 .3 .8-.1 1-.7 1.4-.9 1-1.2 .7-4.7 1.6z" fill="#5c5c5c"/><path d="M392.5 340.5l-3.3 .1-1.4-.3-1.5-.5-1.1-.7-.6-.6-.3-.7 .1-1 1-1.3 1.6-1 2-.7 3.8-.9 2.4-.2 2.8 .3 1.7 .5 1 .7 .2 .8-.1 1.2-.5 1-.8 .8-1.3 .6-3.4 1.3z" fill="#acacac"/><path d="M391.8 340.3l-2.8-.1-2.5-1-.8-.4-.5-.8-.2-.8 .3-.7 .9-1 1.7-1 5.3-1.4 2-.1 2.6 .4 1.2 .4 .9 .7 .2 .7-.1 1-.4 .8-.7 .8-1.4 .7-3 1.1z" fill="#000"/><path d="M392.8 339.6l-2.6 .1-2.2-.7-1.4-1-.2-.5 0-.7 .8-1 1.3-.9 4.5-1.2 1.5-.1 1.6 .2 1.7 .4 .7 .6 .3 .4 0 .8-.3 .8-.5 .5-2.1 1.2z" fill="#2e2e2e"/><path d="M393 339l-2 .2-2-.5-1.3-.9-.3-.6 .2-.7 .6-.7 1-.7 3.8-1 2.5 .1 1.1 .3 .9 .6 .3 .7 0 .4-.8 1-1.7 1z" fill="#5c5c5c"/><path d="M393 338.5l-1.8 .2-1.6-.5-1-.7-.1-.5 .1-.5 .3-.5 .9-.5 3-.9 2 0 1.5 .6 .4 .8-.5 1-1.4 .9z" fill="#acacac"/><path d="M393.2 338l-1.4 .2-1.4-.2-1-.8 0-.7 1.1-.9 2-.5 1.7-.1 1.3 .5 .3 .5-.2 .8-1 .7z" fill="#000"/><path d="M392.8 337.3l-1.3-.1-.4-.2-.1-.5 .8-.5 .7-.2 1 .1 .5 .3-.1 .6z" fill="#2e2e2e"/></g>
<rect x="362.6" y="308.1" width="70" height="70.7" fill="none" stroke="#9a9a9a" stroke-width=".7"/>
<line x1="361.9" y1="309.1" x2="361.9" y2="378.8" stroke="#a4a4a4" stroke-width="1.2" stroke-dasharray=".45 1.35"/>
<line x1="373.3" y1="308.1" x2="373.3" y2="378.8" stroke="#4a4a4a" stroke-width="0.85"/>
<line x1="362.6" y1="347" x2="432.6" y2="347" stroke="#4a4a4a" stroke-width="0.85"/>
<line x1="361" y1="378.3" x2="362.6" y2="378.3" stroke="#777" stroke-width="0.6"/>
<text class="t" transform="translate(360.2 379.5) scale(.32)" font-size="10" font-weight="normal" fill="#777" text-anchor="end">10<tspan dy="-4" font-size="7">0</tspan></text>
<line x1="361" y1="360.89" x2="362.6" y2="360.89" stroke="#777" stroke-width="0.6"/>
<text class="t" transform="translate(360.2 362.09) scale(.32)" font-size="10" font-weight="normal" fill="#777" text-anchor="end">10<tspan dy="-4" font-size="7">1</tspan></text>
<line x1="361" y1="343.48" x2="362.6" y2="343.48" stroke="#777" stroke-width="0.6"/>
<text class="t" transform="translate(360.2 344.68) scale(.32)" font-size="10" font-weight="normal" fill="#777" text-anchor="end">10<tspan dy="-4" font-size="7">2</tspan></text>
<line x1="361" y1="326.07" x2="362.6" y2="326.07" stroke="#777" stroke-width="0.6"/>
<text class="t" transform="translate(360.2 327.27) scale(.32)" font-size="10" font-weight="normal" fill="#777" text-anchor="end">10<tspan dy="-4" font-size="7">3</tspan></text>
<line x1="361" y1="308.66" x2="362.6" y2="308.66" stroke="#777" stroke-width="0.6"/>
<text class="t" transform="translate(360.2 309.86) scale(.32)" font-size="10" font-weight="normal" fill="#777" text-anchor="end">10<tspan dy="-4" font-size="7">4</tspan></text>
<line x1="363.1" y1="378.8" x2="363.1" y2="380.4" stroke="#777" stroke-width="0.6"/>
<text class="t" transform="translate(363.1 385) scale(.34)" font-size="10" font-weight="normal" fill="#555" text-anchor="middle">0</text>
<line x1="376.61" y1="378.8" x2="376.61" y2="380.4" stroke="#777" stroke-width="0.6"/>
<text class="t" transform="translate(376.61 385) scale(.34)" font-size="10" font-weight="normal" fill="#555" text-anchor="middle">200</text>
<line x1="390.12" y1="378.8" x2="390.12" y2="380.4" stroke="#777" stroke-width="0.6"/>
<text class="t" transform="translate(390.12 385) scale(.34)" font-size="10" font-weight="normal" fill="#555" text-anchor="middle">400</text>
<line x1="403.63" y1="378.8" x2="403.63" y2="380.4" stroke="#777" stroke-width="0.6"/>
<text class="t" transform="translate(403.63 385) scale(.34)" font-size="10" font-weight="normal" fill="#555" text-anchor="middle">600</text>
<line x1="417.14" y1="378.8" x2="417.14" y2="380.4" stroke="#777" stroke-width="0.6"/>
<text class="t" transform="translate(417.14 385) scale(.34)" font-size="10" font-weight="normal" fill="#555" text-anchor="middle">800</text>
<line x1="430.65" y1="378.8" x2="430.65" y2="380.4" stroke="#777" stroke-width="0.6"/>
<text class="t" transform="translate(430.65 385) scale(.34)" font-size="10" font-weight="normal" fill="#555" text-anchor="middle">1000</text>
<text x="386" y="304.6" font-size="9.8" font-weight="bold">GFP<tspan dy="-3.6" font-size="7.84">lo</tspan></text>
<rect x="412.52" y="309.08" width="19.88" height="9.42" fill="#fff"/>
<text x="432" y="318.2" font-size="9.6" font-weight="bold" text-anchor="end" fill="#000">89.9</text>
<rect x="412.52" y="368.48" width="19.88" height="9.42" fill="#fff"/>
<text x="432" y="377.6" font-size="9.6" font-weight="bold" text-anchor="end" fill="#000">10.1</text>
<text x="352.2" y="370.2" font-size="9.5" font-weight="bold" text-anchor="middle" fill="#000" transform="rotate(-90 352.2 370.2)">1B2</text>
<line x1="349.3" y1="359" x2="349.3" y2="316" stroke="#000" stroke-width="1.4"/>
<path d="M349.3 310.4 L347.1 317 L351.5 317 Z" fill="#000"/>
<text x="361.2" y="396.8" font-size="9.8" font-weight="bold" text-anchor="start" fill="#000">FSC</text>
<line x1="384" y1="394.1" x2="510.4" y2="394.1" stroke="#000" stroke-width="1.4"/>
<path d="M516 394.1 L509.4 391.9 L509.4 396.3 Z" fill="#000"/>
<g fill-rule="evenodd" clip-path="url(#c9)"><path d="M471 369.3l-.2 .2-1-.1-.8-.6-.4-1.6 0-2-.3-1-5.2-8.7-1.2-2.7-1.3-3.6-.4-2.2 .4-3 1.1-2.8 1.5-2.1 3-2 8.1-3.1 9.9-4.9 3.3-1.2 3.7-1 9.3-1.3 6.3-.1 4 .9 2 .9 1.2 1 1.2 1.7 .9 2.5 .2 2.7-.2 1.8-.5 1.2-1.6 2.8-4.4 4-1.8 2.8-.6 .4-1 .2-2 .1-1.4 .4-2.8 1.3-1.6 1-6.4 5.4-4 2.6-2.1 1-1.9 1.4-1.8 1.9-.5 1.3-.1 1-.6 .6-1.8 0-2-.4-1.7 0-1 .2-1.7 .7-1.3 1.3zM476 379.6l-3.5 0-1.5-.2-2.5-.1-.3-.2-1.2 0-.4-.3 0-.3 .3-.5 .9-.7 1.2-.5 2.5-.5 2.7 0 2 .1 2.3 .5 1.5 .7 .8 .9-.1 .3-.5 .3-1 .3-2.7 .1z" fill="#000" stroke="#000" stroke-width="1.5" stroke-linejoin="round"/><path d="M470.2 368.1l-.3-.3 .1-2.8-.3-1.2-2.8-4.3-1.4-2.5-1.8-2.2-.7-1.3-2.1-4.5-.3-1.5 .2-2.1 1.6-4.4 1-1.2 2.4-1.8 2.2-1.3 8.8-3.3 5-2.4 .4-.4 4-1.6 3-.7 2.3-.9 1.3-.3 2.4 .1 2.6-.7 2.4-.3 7-.2 3.3 .7 2 .9 1.4 1.2 1.2 2 .7 2-.1 3.7-2.2 4.3-1.3 1-1.9 1-1.1 .8-1.4 1.6-.9 1.8-1.1 .3-2.3 .1-4.5 1.8-2.8 1.8-1.2 1.2-2.2 2.8-1.3 .9-1.5 .6-2.5 1.6-3.3 1.2-1.7 2.2-2.7 1-.3 .5-.1 1-.4 .4-1.8 .3-2.4-1-1 0-.8 .2-1.5 1.7zM475 378.5l-2.3 0-1.6-.5 .9-.5 2-.2 1.6 .2 1.1 .5z" fill="#2e2e2e"/><path d="M478 360.3l-.5 .2-.7-.1-1.6-1.2-1-.3-1 .1-1.7 .8-.9 0-.6-.8-.1-2.2-.6-1-1.1-.6-1.4 0-1-.3-.7-.7-1.3-1.6-.8-2.4-1.2-1.7-.2-1.3 .3-1.4 1.5-4.3 .4-.7 .7-.8 2.7-1.8 6.6-3.3 4.4-1 4.6-2.6 3.7-1.3 3.3-.2 2-1.4 1.2-.3 2.2 .1 3-.9 6-.6 2.3-.1 1.7 .3 3.6 .9 .7 .4 1 .7 .8 1.1 .5 1.5 .2 3.7-.2 1-.6 1.6-.8 1.7-.6 .8-3.7 1.9-3.3 3.3-2.8 .6-7.5 3.2-.7 .7-2.5 4-1.3 .8-2 .5-2.5 1.2-.7 .2-1-.2-1.6-1-1 .1-1.2 1.3-1.1 2.3z" fill="#5c5c5c"/><path d="M472.5 357.5l-.6-.3-.7-1.4-1.7-1.5-1-.5-2-.6-1.3-.9-.4-.8-.3-2.3-1-1.2-.4-1 .1-1.5 1-2 .7-2.3 .6-.6 2-1.4 6.3-3.6 5.4-.8 2.6-1.9 3.7-1.6 1.3-.3 2 .3 1.1-.1 .9-.3 2-1.6 2.7-.2 2.7-1 6.6-.8 2 0 1.2 .3 3.8 1.3 .9 .6 .6 .7 .6 1.6 .1 3.7-1.2 3-1 1.3-3 1.4-3.6 2.7-2.2 .4-3.2 1.9-3 .8-1.6 .7-1.2 1.1-1.5 2.4-1.5 1.2-4.8 1.4-1-.1-1.7-.9-1-.2-1.5 .4-2.5 1.2-2.5 0-1.3 .8-.3 .5 0 .3 2.1 .5 .3 .2-.1 .3-.7 .3-2 0z" fill="#acacac"/><path d="M472.2 354.3l-.7 0-.7-.2-1.8-1.2-1.8-.5-.7-.5-.4-.7-.4-2.2-1.2-1.8-.3-.7 .2-1 .9-1.5 .4-2 .2-.5 3.9-2.9 4.4-2.5 5-.6 .8-.3 2-1.6 3.8-1.5 4.2-.1 1-.4 2-1.4 2.5-.5 3.3-1.2 6.4-.7 1.6 0 1.2 .3 2.6 1.1 1.4 1 .8 .9 .4 1.9 0 2.5-.4 1.6-1 1.5-3.3 1.8-2.7 1.9-2.8 .9-3.2 2.1-1 .4-2 .2-.8 .3-2.7 1.8-.5 .5-.7 1.5-.6 .5-1.3 .5-2.2 .4-2 1.2-.8-.1-1.7-.7-1-.1-3.7 1.2-3 .3z" fill="#000"/><path d="M472.8 353l-1 0-.8-.2-2.8-2.6-.6-1-.8-2.2 .6-5 1.7-2 1.7-1.1 3.7-1.9 2.5-.5 2.8-.2 2.7-1.7 2-.4 2-.8 4-.7 3-1.6 5.3-1.7 6.4-.9 1.7 0 1.1 .3 1.5 .8 1 .9 .9 1.3 .6 1.4 .2 1.6-.2 1.4-.5 1-.7 .6-2.3 .8-2.7 2.1-2.6 .9-3 2.2-1.4 .5-2.6 .1-.7 .4-1.4 1.2-.9 .4-2.4-.2-1 .2-1 .8-.5 1.6-.3 .4-3 1.2-3.5 .6-3 1-2.7 .3z" fill="#2e2e2e"/><path d="M474 352l-1.5 .2-1.3-.4-2.3-2.6-.8-1.7-.1-1.5 .6-4 .9-1.5 1.3-1 4-1.9 2.2-.5 3.2-.2 2.3-1.3 2.3-.4 2.4-1.1 3.6-.9 2.4-1.2 5.3-1.9 7.7-1.1 1.6 .3 .8 .5 .7 .4 .8 1 .7 1.6 .4 1.7 0 1.3-.4 .7-.8 .5-1.8 .5-2.2 2.2-2.9 1.1-2.6 2.1-1.5 .5-2.2-.1-1 .2-2 1.6-.8 .4-2.2-.1-1.3 .2-1 .6-1.6 2-3.7 1.7-5 1.5-2.7 .3z" fill="#5c5c5c"/><path d="M474.5 351.3l-1.5 .2-1.2-.4-2-1.8-.9-1.8-.2-1.5 .5-2 .4-2.2 .6-1.2 1.1-.8 2.9-1.4 1.8-.6 1.5-.3 2.7 0 2.6-.9 1.7-.4 4.3-1.8 6.2-2.3 3.5-1.5 3.7-.6 3.8-.5 1.9 .5 .7 .5 .6 .7 1 2.8 0 1.5-.5 .5-1.9 1-1.6 1.7-.7 .5-2.7 1-2.3 1.8-1 .5-1 .2-2.7 0-.9 .3-1.9 1.5-.8 .1-1.7-.2-1 .3-1.3 .8-1.7 1.9-3.5 1.9-2.5 .6-2.5 .8z" fill="#acacac"/><path d="M474.5 350.8l-1.7 .1-1.3-.6-1.5-1.5-.7-1.6-.1-1.2 .9-4.2 .6-1 1-.8 2.8-1.3 2-.6 1-.2 2.7 0 4-.9 8.3-3.7 2.8-.8 2.2-1.1 1.3-.4 3.7-.7 3.5-.3 1.7 .5 1 1 .8 2.3 0 1.2-.4 .5-1.6 1.2-2 2-3 1.1-2.5 2-.8 .3-1 .2-2.4-.1-1.1 .3-1.9 1.1-2.3 0-1 .2-1.5 1.1-1.8 1.9-3.4 2.1-2.6 .4-2.7 .9z" fill="#000"/><path d="M475.8 349.5l-2.3 .2-1.3-.3-1.2-.7-.8-1.2-.1-1.3 .7-4 .5-1 .9-.7 2.8-1.3 1.8-.5 7-.3 1-.3 1.7-1.1 2.5 0 1.3-1.8 1.2-.8 1.5-.7 2.8-.7 3-1.4 3.7-.5 2.7-.2 1.4 .3 .9 .8 .6 1.8-.1 1-1.6 2.2-1.2 1.1-3 .9-1.2 .8-1.7 1.4-.8 .4-2.7-.2-3.6 .9-3.2-.2-.8 .5-2.6 3.4-2.6 1.9-1 .3-2.8 .1z" fill="#2e2e2e"/><path d="M494 341.3l-1.2 .2-1.6-.1-.9-.4-.4-.5-.1-1 .7-3.3 .4-.7 .7-.7 1.4-.7 2.8-.6 2.4-1.3 1.3-.3 3.3-.4 2 0 1 .3 .8 .7 .5 1.3 0 1-.6 1.4-1 1.2-4.3 1.5-2.7 2.1-.7 .1-1.8-.2zM476.8 348.3l-1.3 .2-2.7-.2-1-.3-.6-.5-.3-1 .2-3 .3-1.3 .5-.7 2.9-1.6 2-.8 7.7 .1 1-.2 1-.7 .3 0 .2 .2-.2 1 .5 2 0 1-.7 1.3-1.6 1.7-1.8 1.5-1 .5-3.4 .2z" fill="#5c5c5c"/><path d="M494.2 340.8l-1.2 .1-1-.2-.8-.4-.3-.5-.1-1.3 .2-2 .3-.7 .7-.8 1-.5 3-.7 2.5-1.2 1.3-.4 4.4-.2 1 .3 .9 .7 .4 1 0 1-.5 1.2-.8 .8-4.4 1.6-2.6 1.7-2.2 0zM476.5 347.5l-1.3 .1-1.7-.3-1-.3-.5-.5-.4-1.3 .1-2 .3-1 .8-.7 2.7-1.5 2-.5 6.7 .4 1.3 .3 .7 .7 .4 1.1-.3 1.2-.8 1-3 2.5-1 .3-3 .1z" fill="#acacac"/><path d="M493.5 340.5l-1.5-.4-.7-1.1 .1-2.5 .4-.8 .7-.7 3.3-.8 3-1.4 1-.3 4.2-.2 1 .3 .8 .7 .3 .9-.1 1-.5 1-.6 .6-4.2 1.4-2.7 1.5-1.8 .1zM476.8 347l-1.3 .1-1.3-.1-1.2-.5-.6-.5-.3-1-.1-1.5 .3-1 .8-.7 2.4-1.4 1.7-.5 2.6 .3 4 0 1.2 .3 .9 .7 .3 1-.4 1.2-3.6 2.8-1.2 .5-2.5 0z" fill="#000"/><path d="M493.8 339.8l-1.1-.3-.4-.5-.3-.7 0-1.6 .2-.6 .6-.5 2.7-.7 3.3-1.5 1-.3 4-.1 .7 .3 .5 .5 .3 .7-.1 .7-.3 .6-.7 .4-5.2 2-3 .5-1.5 .9zM476.5 346.3l-1.3 0-1.2-.3-.8-.6-.3-.9-.1-1 .4-.7 2-1.5 1.6-.4 2.4 .3 4-.3 1.3 .3 .7 .6 .2 .7-.5 .7-1.9 1.1-1.8 1.4-1 .3z" fill="#2e2e2e"/><path d="M494.2 338.8l-.7 .2-.5-.3-.3-.5-.1-1.2 .2-.5 .4-.3 1.8-.3 3-1.7 1.8-.7 3.2 .1 .8 .2 .4 .4 0 .7-.3 .6-2.1 1.3-3.3 1-3 .1-.5 .2zM477 345.5l-1.5 .1-1.3-.5-.4-.6-.1-.5 .4-1 .9-.7 1-.3 2.2 .4 5-.7 .8 .1 .5 .4-.3 .6-1.7 .8-1.7 1.4-.8 .2z" fill="#5c5c5c"/><path d="M498.8 337.3l-1 0-1-.2-.5-.3 0-.6 .9-1 2.3-1 1.7-.1 .8 .2 .6 .5-.1 .7-.9 .7-1.4 .7z" fill="#acacac"/><path d="M499 336.8l-1.3 0-.4-.3 .1-.5 .8-.7 1.3-.5 1-.1 .7 .3 .1 .5-.4 .5-.9 .5z" fill="#000"/><circle cx="469.9" cy="370.2" r="1.6" fill="#000"/><circle cx="480.3" cy="368.6" r="1.1" fill="#000"/><circle cx="506.8" cy="349.3" r="1.1" fill="#000"/><circle cx="493" cy="378.4" r="0.9" fill="#000"/></g>
<rect x="444.6" y="308.1" width="71.6" height="70.7" fill="none" stroke="#9a9a9a" stroke-width=".7"/>
<line x1="443.9" y1="309.1" x2="443.9" y2="378.8" stroke="#a4a4a4" stroke-width="1.2" stroke-dasharray=".45 1.35"/>
<line x1="455.8" y1="308.1" x2="455.8" y2="378.8" stroke="#4a4a4a" stroke-width="0.85"/>
<line x1="444.6" y1="347" x2="516.2" y2="347" stroke="#4a4a4a" stroke-width="0.85"/>
<line x1="443" y1="378.3" x2="444.6" y2="378.3" stroke="#777" stroke-width="0.6"/>
<text class="t" transform="translate(442.2 379.5) scale(.32)" font-size="10" font-weight="normal" fill="#777" text-anchor="end">10<tspan dy="-4" font-size="7">0</tspan></text>
<line x1="443" y1="360.89" x2="444.6" y2="360.89" stroke="#777" stroke-width="0.6"/>
<text class="t" transform="translate(442.2 362.09) scale(.32)" font-size="10" font-weight="normal" fill="#777" text-anchor="end">10<tspan dy="-4" font-size="7">1</tspan></text>
<line x1="443" y1="343.48" x2="444.6" y2="343.48" stroke="#777" stroke-width="0.6"/>
<text class="t" transform="translate(442.2 344.68) scale(.32)" font-size="10" font-weight="normal" fill="#777" text-anchor="end">10<tspan dy="-4" font-size="7">2</tspan></text>
<line x1="443" y1="326.07" x2="444.6" y2="326.07" stroke="#777" stroke-width="0.6"/>
<text class="t" transform="translate(442.2 327.27) scale(.32)" font-size="10" font-weight="normal" fill="#777" text-anchor="end">10<tspan dy="-4" font-size="7">3</tspan></text>
<line x1="443" y1="308.66" x2="444.6" y2="308.66" stroke="#777" stroke-width="0.6"/>
<text class="t" transform="translate(442.2 309.86) scale(.32)" font-size="10" font-weight="normal" fill="#777" text-anchor="end">10<tspan dy="-4" font-size="7">4</tspan></text>
<line x1="445.1" y1="378.8" x2="445.1" y2="380.4" stroke="#777" stroke-width="0.6"/>
<text class="t" transform="translate(445.1 385) scale(.34)" font-size="10" font-weight="normal" fill="#555" text-anchor="middle">0</text>
<line x1="458.92" y1="378.8" x2="458.92" y2="380.4" stroke="#777" stroke-width="0.6"/>
<text class="t" transform="translate(458.92 385) scale(.34)" font-size="10" font-weight="normal" fill="#555" text-anchor="middle">200</text>
<line x1="472.74" y1="378.8" x2="472.74" y2="380.4" stroke="#777" stroke-width="0.6"/>
<text class="t" transform="translate(472.74 385) scale(.34)" font-size="10" font-weight="normal" fill="#555" text-anchor="middle">400</text>
<line x1="486.56" y1="378.8" x2="486.56" y2="380.4" stroke="#777" stroke-width="0.6"/>
<text class="t" transform="translate(486.56 385) scale(.34)" font-size="10" font-weight="normal" fill="#555" text-anchor="middle">600</text>
<line x1="500.38" y1="378.8" x2="500.38" y2="380.4" stroke="#777" stroke-width="0.6"/>
<text class="t" transform="translate(500.38 385) scale(.34)" font-size="10" font-weight="normal" fill="#555" text-anchor="middle">800</text>
<line x1="514.19" y1="378.8" x2="514.19" y2="380.4" stroke="#777" stroke-width="0.6"/>
<text class="t" transform="translate(514.19 385) scale(.34)" font-size="10" font-weight="normal" fill="#555" text-anchor="middle">1000</text>
<text x="467.4" y="304.8" font-size="9.8" font-weight="bold">GFP<tspan dy="-3.6" font-size="7.84">hi</tspan></text>
<rect x="495.32" y="309.08" width="19.88" height="9.42" fill="#fff"/>
<text x="514.8" y="318.2" font-size="9.6" font-weight="bold" text-anchor="end" fill="#000">72.5</text>
<rect x="495.32" y="368.68" width="19.88" height="9.42" fill="#fff"/>
<text x="514.8" y="377.8" font-size="9.6" font-weight="bold" text-anchor="end" fill="#000">27.5</text></svg>
</body></html>
